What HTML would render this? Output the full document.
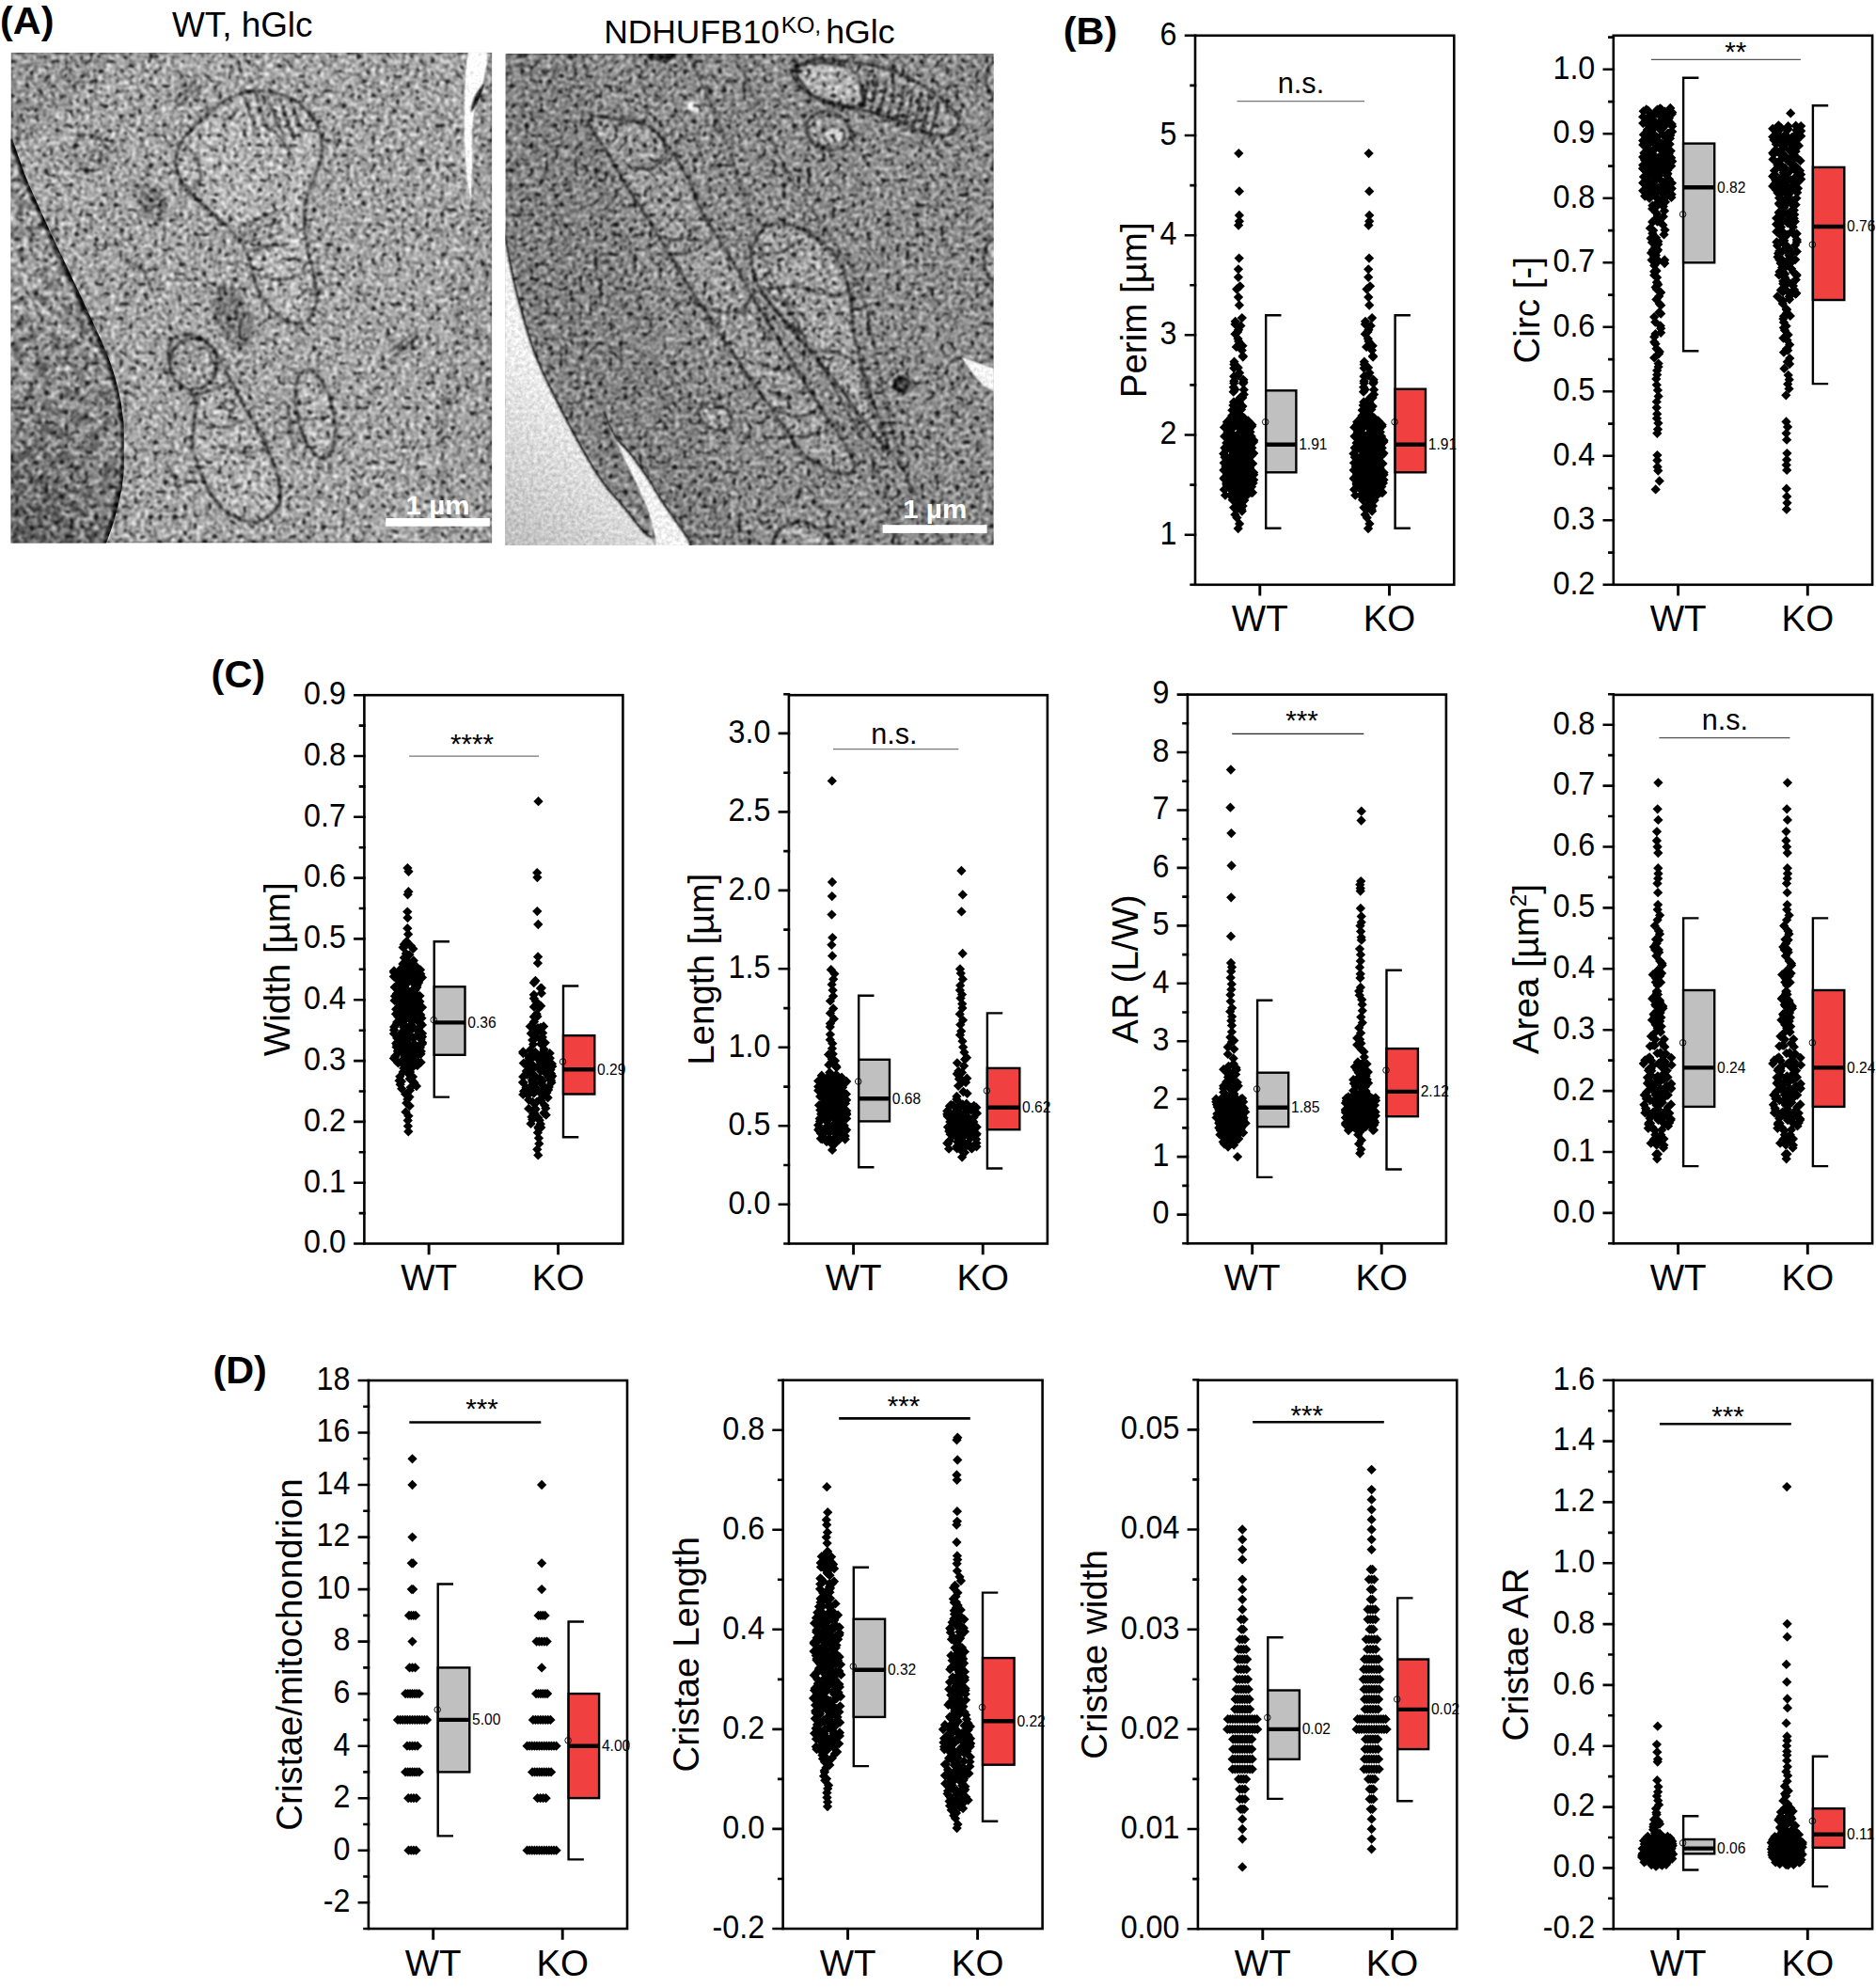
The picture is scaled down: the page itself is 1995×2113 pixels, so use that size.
<!DOCTYPE html>
<html lang="en"><head><meta charset="utf-8"><title>Figure</title>
<style>html,body{margin:0;padding:0;background:#fff}svg{display:block}text{font-family:'Liberation Sans', Arial, sans-serif;fill:#000}.tl text{font-size:34.5px;text-anchor:end}.cl text{font-size:38.5px;text-anchor:middle}.ti{font-size:38.5px;text-anchor:middle}.sg{font-size:30.6px;text-anchor:middle}.ml{font-size:15.6px}.pl{font-size:41.4px;font-weight:bold}.it{font-size:34.7px}.sb{font-size:28px;font-weight:bold;fill:#fff}.pts{fill:none;stroke:none;marker-start:url(#dm);marker-mid:url(#dm);marker-end:url(#dm)}</style></head><body>
<svg width="1995" height="2113" viewBox="0 0 1995 2113">
<defs><marker id="dm" markerUnits="userSpaceOnUse" markerWidth="10" markerHeight="10" refX="5" refY="5" viewBox="0 0 10 10" overflow="visible"><path d="M5 -0.15L10.15 5L5 10.15L-0.15 5Z" fill="#000"/></marker></defs>
<rect width="1995" height="2113" fill="#fff"/>
<defs>
<filter id="emw" x="0" y="0" width="1" height="1" color-interpolation-filters="sRGB">
<feTurbulence type="fractalNoise" baseFrequency="0.22" numOctaves="2" seed="3" result="n1"/>
<feColorMatrix in="n1" type="matrix" values="1 0 0 0 0 1 0 0 0 0 1 0 0 0 0 0 0 0 0 1" result="g1"/>
<feTurbulence type="fractalNoise" baseFrequency="0.19" numOctaves="1" seed="14" result="n2"/>
<feColorMatrix in="n2" type="matrix" values="0 -9 0 0 3.62 0 -9 0 0 3.62 0 -9 0 0 3.62 0 0 0 0 1" result="d2"/>
<feColorMatrix in="d2" type="matrix" values="-0.85 0 0 0 1 -0.85 0 0 0 1 -0.85 0 0 0 1 0 0 0 0 1" result="m2"/>
<feGaussianBlur in="SourceGraphic" stdDeviation="0.8" result="sg"/>
<feComposite in="sg" in2="g1" operator="arithmetic" k1="0" k2="1" k3="1.05" k4="-0.525" result="c1"/>
<feComposite in="c1" in2="m2" operator="arithmetic" k1="1" k2="0" k3="0" k4="0" result="c2"/>
<feGaussianBlur in="c2" stdDeviation="0.9" result="c3"/>
<feComposite in="c3" in2="SourceAlpha" operator="in"/>
</filter>
<filter id="emk" x="0" y="0" width="1" height="1" color-interpolation-filters="sRGB">
<feTurbulence type="fractalNoise" baseFrequency="0.22" numOctaves="2" seed="8" result="n1"/>
<feColorMatrix in="n1" type="matrix" values="1 0 0 0 0 1 0 0 0 0 1 0 0 0 0 0 0 0 0 1" result="g1"/>
<feTurbulence type="fractalNoise" baseFrequency="0.19" numOctaves="1" seed="19" result="n2"/>
<feColorMatrix in="n2" type="matrix" values="0 -9 0 0 3.72 0 -9 0 0 3.72 0 -9 0 0 3.72 0 0 0 0 1" result="d2"/>
<feColorMatrix in="d2" type="matrix" values="-0.85 0 0 0 1 -0.85 0 0 0 1 -0.85 0 0 0 1 0 0 0 0 1" result="m2"/>
<feGaussianBlur in="SourceGraphic" stdDeviation="0.8" result="sg"/>
<feComposite in="sg" in2="g1" operator="arithmetic" k1="0" k2="1" k3="1.0" k4="-0.5" result="c1"/>
<feComposite in="c1" in2="m2" operator="arithmetic" k1="1" k2="0" k3="0" k4="0" result="c2"/>
<feGaussianBlur in="c2" stdDeviation="0.9" result="c3"/>
<feComposite in="c3" in2="SourceAlpha" operator="in"/>
</filter>
<filter id="eml" x="-0.05" y="-0.05" width="1.1" height="1.1" color-interpolation-filters="sRGB">
<feTurbulence type="fractalNoise" baseFrequency="0.25" numOctaves="2" seed="5" result="n1"/>
<feColorMatrix in="n1" type="matrix" values="1 0 0 0 0 1 0 0 0 0 1 0 0 0 0 0 0 0 0 1" result="g1"/>
<feGaussianBlur in="SourceGraphic" stdDeviation="0.9" result="sg"/>
<feComposite in="sg" in2="g1" operator="arithmetic" k1="0" k2="1" k3="0.3" k4="-0.15" result="c1"/>
<feComposite in="c1" in2="sg" operator="in"/>
</filter>
<filter id="emn" x="0" y="0" width="1" height="1" color-interpolation-filters="sRGB">
<feTurbulence type="fractalNoise" baseFrequency="0.2" numOctaves="2" seed="21" result="n1"/>
<feColorMatrix in="n1" type="matrix" values="1 0 0 0 0 1 0 0 0 0 1 0 0 0 0 0 0 0 0 1" result="g1"/>
<feTurbulence type="fractalNoise" baseFrequency="0.075" numOctaves="2" seed="4" result="n2"/>
<feColorMatrix in="n2" type="matrix" values="0 -6 0 0 2.95 0 -6 0 0 2.95 0 -6 0 0 2.95 0 0 0 0 1" result="d2"/>
<feColorMatrix in="d2" type="matrix" values="-0.32 0 0 0 1 -0.32 0 0 0 1 -0.32 0 0 0 1 0 0 0 0 1" result="m2"/>
<feTurbulence type="fractalNoise" baseFrequency="0.19" numOctaves="1" seed="33" result="n3"/>
<feColorMatrix in="n3" type="matrix" values="0 -9 0 0 3.7 0 -9 0 0 3.7 0 -9 0 0 3.7 0 0 0 0 1" result="d3"/>
<feColorMatrix in="d3" type="matrix" values="-0.8 0 0 0 1 -0.8 0 0 0 1 -0.8 0 0 0 1 0 0 0 0 1" result="m3"/>
<feGaussianBlur in="SourceGraphic" stdDeviation="0.8" result="sg"/>
<feComposite in="sg" in2="g1" operator="arithmetic" k1="0" k2="1" k3="1.1" k4="-0.55" result="c1"/>
<feComposite in="c1" in2="m2" operator="arithmetic" k1="1" k2="0" k3="0" k4="0" result="c2"/>
<feComposite in="c2" in2="m3" operator="arithmetic" k1="1" k2="0" k3="0" k4="0" result="c2b"/>
<feGaussianBlur in="c2b" stdDeviation="0.9" result="c3"/>
<feComposite in="c3" in2="SourceAlpha" operator="in"/>
</filter>
<clipPath id="cpw"><rect x="11.5" y="55.8" width="511.8" height="521.8"/></clipPath>
<clipPath id="cpk"><rect x="537.3" y="57" width="519.5" height="522.9"/></clipPath>
<radialGradient id="nuc" gradientUnits="userSpaceOnUse" cx="15" cy="575" r="300"><stop offset="0" stop-color="#6c6c6c"/><stop offset="0.5" stop-color="#989898"/><stop offset="1" stop-color="#adadad"/></radialGradient>
<linearGradient id="kobg" x1="0" y1="0" x2="1" y2="1"><stop offset="0" stop-color="#8a8a8a"/><stop offset="1" stop-color="#9a9a9a"/></linearGradient>
<linearGradient id="exg" gradientUnits="userSpaceOnUse" x1="537" y1="580" x2="650" y2="450"><stop offset="0" stop-color="#bdbdbd"/><stop offset="0.6" stop-color="#dcdcdc"/><stop offset="1" stop-color="#f0f0f0"/></linearGradient>
</defs>
<g clip-path="url(#cpw)"><g filter="url(#emw)">
<rect x="11.5" y="55.8" width="511.8" height="521.8" fill="#aaaaaa"/>
<path d="M11.5 55.8 L120.9 55.8 L86.4 97.6 L43.2 135.0 L11.5 160.9Z" fill="#8e8e8e" opacity="0.6"/>
<path d="M259.1 99.0C267.7 97.1 278.3 95.9 287.9 97.6C297.4 99.2 308.5 103.3 316.6 109.1C324.8 114.8 332.5 123.5 336.8 132.1C341.1 140.7 343.0 151.3 342.5 160.9C342.1 170.5 336.8 181.0 333.9 189.7C331.0 198.3 327.0 204.1 325.3 212.7C323.6 221.3 323.4 231.9 323.8 241.5C324.3 251.1 326.2 260.7 328.2 270.3C330.1 279.9 333.9 290.4 335.3 299.1C336.8 307.7 338.5 314.9 336.8 322.1C335.1 329.3 330.1 338.9 325.3 342.2C320.5 345.6 314.2 344.6 308.0 342.2C301.8 339.8 293.6 334.1 287.9 327.9C282.1 321.6 277.3 313.5 273.5 304.8C269.6 296.2 268.2 284.7 264.8 276.0C261.5 267.4 259.1 260.7 253.3 253.0C247.6 245.3 238.0 237.2 230.3 230.0C222.6 222.8 213.7 216.5 207.3 209.8C200.8 203.1 194.8 196.4 191.4 189.7C188.1 183.0 186.4 176.7 187.1 169.5C187.8 162.3 190.9 153.7 195.7 146.5C200.5 139.3 209.2 132.6 215.9 126.4C222.6 120.1 228.8 113.6 236.0 109.1C243.2 104.5 250.4 100.9 259.1 99.0Z" fill="#b9b9b9" stroke="#181818" stroke-width="2.4"/>
<path d="M260.5 101.9C261.5 105.5 264.1 117.5 266.3 123.5C268.4 129.5 272.3 135.5 273.5 137.9" fill="none" stroke="#181818" stroke-width="2.1" opacity="0.9"/>
<path d="M272.0 99.0C273.2 103.1 276.6 116.5 279.2 123.5C281.9 130.4 286.4 137.9 287.9 140.7" fill="none" stroke="#181818" stroke-width="2.1" opacity="0.9"/>
<path d="M283.5 99.0C285.0 103.1 289.1 115.6 292.2 123.5C295.3 131.4 300.6 142.7 302.2 146.5" fill="none" stroke="#181818" stroke-width="2.1" opacity="0.9"/>
<path d="M296.5 101.9C297.9 106.0 302.2 118.4 305.1 126.4C308.0 134.3 312.3 145.5 313.8 149.4" fill="none" stroke="#181818" stroke-width="2.1" opacity="0.9"/>
<path d="M309.4 107.6C310.6 110.8 314.5 120.8 316.6 126.4C318.8 131.9 321.4 138.3 322.4 140.7" fill="none" stroke="#181818" stroke-width="2.1" opacity="0.9"/>
<path d="M287.9 135.0C290.3 137.9 298.4 147.0 302.2 152.3C306.1 157.5 309.4 164.3 310.9 166.7" fill="none" stroke="#181818" stroke-width="2.1" opacity="0.9"/>
<path d="M253.3 241.5C256.7 240.1 266.7 235.7 273.5 232.9C280.2 230.0 290.3 225.7 293.6 224.2" fill="none" stroke="#181818" stroke-width="2.1" opacity="0.9"/>
<path d="M256.2 250.1C260.0 248.7 272.0 243.9 279.2 241.5C286.4 239.1 296.0 236.7 299.4 235.7" fill="none" stroke="#181818" stroke-width="2.1" opacity="0.9"/>
<path d="M260.5 258.8C264.1 257.6 275.4 253.5 282.1 251.6C288.8 249.7 297.7 248.0 300.8 247.3" fill="none" stroke="#181818" stroke-width="2.1" opacity="0.9"/>
<path d="M267.7 267.4C271.1 266.4 282.1 262.8 287.9 261.6C293.6 260.4 299.8 260.4 302.2 260.2" fill="none" stroke="#181818" stroke-width="2.1" opacity="0.9"/>
<path d="M273.5 293.3C277.8 294.0 290.7 298.1 299.4 297.6C308.0 297.1 321.0 291.6 325.3 290.4" fill="none" stroke="#181818" stroke-width="2.1" opacity="0.9"/>
<path d="M319.5 316.3C320.5 314.9 322.6 308.7 325.3 307.7C327.9 306.7 333.7 310.1 335.3 310.6" fill="none" stroke="#181818" stroke-width="2.1" opacity="0.9"/>
<path d="M198.6 155.1C200.5 157.5 207.7 163.8 210.1 169.5C212.5 175.3 214.0 184.4 213.0 189.7C212.1 195.0 205.8 199.3 204.4 201.2" fill="none" stroke="#181818" stroke-width="2.1" opacity="0.9"/>
<path d="M233.2 123.5C235.1 124.0 241.3 127.8 244.7 126.4C248.0 124.9 251.9 116.8 253.3 114.8" fill="none" stroke="#181818" stroke-width="2.1" opacity="0.9"/>
<ellipse cx="247.6" cy="336.5" rx="19" ry="36" transform="rotate(-22 247.6 336.5)" fill="#7d7d7d"/>
<ellipse cx="161.2" cy="215.6" rx="14" ry="22" transform="rotate(-35 161.2 215.6)" fill="#808080"/>
<path d="M179.9 371.0C181.1 366.5 182.5 360.5 187.1 358.1C191.7 355.7 200.5 354.5 207.3 356.6C214.0 358.8 221.6 364.3 227.4 371.0C233.2 377.7 236.5 386.9 241.8 396.9C247.1 407.0 253.3 420.9 259.1 431.5C264.8 442.0 271.1 450.2 276.3 460.3C281.6 470.3 287.1 481.4 290.7 491.9C294.3 502.5 297.4 515.4 297.9 523.6C298.4 531.7 297.7 535.6 293.6 540.9C289.5 546.1 281.1 553.8 273.5 555.3C265.8 556.7 255.2 553.8 247.6 549.5C239.9 545.2 233.2 537.5 227.4 529.3C221.6 521.2 216.8 510.2 213.0 500.6C209.2 491.0 205.3 481.4 204.4 471.8C203.4 462.2 207.0 451.6 207.3 443.0C207.5 434.4 208.7 426.7 205.8 420.0C202.9 413.2 194.3 408.5 190.0 402.7C185.7 396.9 181.6 390.7 179.9 385.4C178.2 380.1 178.7 375.6 179.9 371.0Z" fill="#b6b6b6" stroke="#181818" stroke-width="2.4"/>
<ellipse cx="205.8" cy="386.9" rx="25" ry="27" fill="#a4a4a4" stroke="#181818" stroke-width="2.4"/>
<path d="M207.3 420.0C210.6 419.0 221.2 416.6 227.4 414.2C233.6 411.8 241.8 407.0 244.7 405.6" fill="none" stroke="#181818" stroke-width="2.1" opacity="0.9"/>
<path d="M210.1 448.8C214.5 449.7 227.9 454.5 236.0 454.5C244.2 454.5 255.2 449.7 259.1 448.8" fill="none" stroke="#181818" stroke-width="2.1" opacity="0.9"/>
<path d="M233.2 474.7C237.5 475.6 250.4 479.9 259.1 480.4C267.7 480.9 280.7 478.0 285.0 477.5" fill="none" stroke="#181818" stroke-width="2.1" opacity="0.9"/>
<path d="M236.0 428.6C237.5 428.1 242.3 425.0 244.7 425.7C247.1 426.4 250.9 431.2 250.4 432.9C250.0 434.6 244.2 436.5 241.8 435.8C239.4 435.1 237.0 429.8 236.0 428.6" fill="none" stroke="#181818" stroke-width="2.1" opacity="0.9"/>
<ellipse cx="335.3" cy="440.1" rx="19" ry="48" transform="rotate(-12 335.3 440.1)" fill="#b4b4b4" stroke="#181818" stroke-width="2.4"/>
<path d="M318.1 443.0C320.7 443.5 328.6 445.9 333.9 445.9C339.2 445.9 347.1 443.5 349.7 443.0" fill="none" stroke="#181818" stroke-width="1.4"/>
<ellipse cx="97.3" cy="162.3" rx="17" ry="20" transform="rotate(-30 97.3 162.3)" fill="#a8a8a8" stroke="#4a4a4a" stroke-width="2.4"/>
<circle cx="102.2" cy="166.1" r="6.5" fill="#b5b5b5" stroke="#4a4a4a" stroke-width="2.4"/>
<path d="M184.2 109.1C186.6 106.7 194.3 99.0 198.6 94.7C202.9 90.4 208.2 85.1 210.1 83.2" fill="none" stroke="#181818" stroke-width="2.1" opacity="0.85"/>
<path d="M190.0 113.4C192.4 111.0 200.3 103.3 204.4 99.0C208.5 94.7 212.8 89.4 214.5 87.5" fill="none" stroke="#181818" stroke-width="2.1" opacity="0.85"/>
<path d="M132.4 276.0C135.3 277.5 144.9 279.4 149.7 284.7C154.5 290.0 159.3 303.9 161.2 307.7" fill="none" stroke="#181818" stroke-width="2.1" opacity="0.85"/>
<path d="M414.5 373.9C416.9 372.0 424.6 365.8 428.9 362.4C433.2 359.0 438.5 355.2 440.4 353.8" fill="none" stroke="#181818" stroke-width="2.1" opacity="0.85"/>
<path d="M418.8 378.2C421.2 376.3 428.9 370.3 433.2 366.7C437.5 363.1 442.8 358.3 444.7 356.6" fill="none" stroke="#181818" stroke-width="2.1" opacity="0.85"/>
<path d="M175.6 489.1C177.0 491.9 181.8 500.6 184.2 506.3C186.6 512.1 189.0 520.7 190.0 523.6" fill="none" stroke="#181818" stroke-width="2.1" opacity="0.85"/>
<path d="M305.1 425.7C305.8 431.0 308.2 447.8 309.4 457.4C310.6 467.0 311.8 479.0 312.3 483.3" fill="none" stroke="#181818" stroke-width="2.1" opacity="0.85"/>
<path d="M502.3 212.7C501.6 220.4 500.1 242.0 498.0 258.8C495.8 275.6 491.7 295.7 489.3 313.5C487.0 331.2 486.0 348.5 483.6 365.3C481.2 382.1 477.4 398.9 475.0 414.2C472.6 429.6 469.7 444.9 469.2 457.4C468.7 469.9 472.6 477.1 472.1 489.1C471.6 501.0 468.2 514.2 466.3 529.3C464.4 544.5 461.5 571.3 460.6 579.7" fill="none" stroke="#4a4a4a" stroke-width="2.1" opacity="0.9"/>
<path d="M502.3 212.7 L489.3 313.5 L475.0 414.2 L469.2 489.1 L460.6 579.7 L523.9 579.7 L523.9 55.8 L515.3 55.8Z" fill="#9c9c9c" opacity="0.5"/>
</g>
<g filter="url(#emn)">
<path d="M11.5 149.4C13.9 156.1 19.7 174.3 25.9 189.7C32.1 205.0 41.3 224.7 48.9 241.5C56.6 258.3 64.3 274.1 72.0 290.4C79.6 306.7 87.8 323.5 95.0 339.4C102.2 355.2 109.9 370.6 115.1 385.4C120.4 400.3 124.0 414.2 126.7 428.6C129.3 443.0 130.7 457.4 131.0 471.8C131.2 486.2 130.0 501.5 128.1 515.0C126.2 528.4 122.6 541.3 119.5 552.4C116.3 563.4 111.1 576.4 109.4 581.2 L109.4 584.7 L9.5 584.7 L9.5 54.4 Z" fill="url(#nuc)"/>
<path d="M11.5 149.4C13.9 156.1 19.7 174.3 25.9 189.7C32.1 205.0 41.3 224.7 48.9 241.5C56.6 258.3 64.3 274.1 72.0 290.4C79.6 306.7 87.8 323.5 95.0 339.4C102.2 355.2 109.9 370.6 115.1 385.4C120.4 400.3 124.0 414.2 126.7 428.6C129.3 443.0 130.7 457.4 131.0 471.8C131.2 486.2 130.0 501.5 128.1 515.0C126.2 528.4 122.6 541.3 119.5 552.4C116.3 563.4 111.1 576.4 109.4 581.2" fill="none" stroke="#1c1c1c" stroke-width="4.2" stroke-linecap="round"/>
</g>
<g filter="url(#eml)">
<path d="M497.4 54.4C501.6 42.4 515.1 49.6 518.1 54.4C521.2 59.2 518.1 71.2 515.8 83.2C513.5 95.2 506.5 109.6 504.3 126.4C502.2 143.1 503.5 169.1 502.9 183.9C502.3 198.8 502.2 215.6 500.9 215.6C499.6 215.6 496.4 198.8 495.1 183.9C493.8 169.1 492.4 147.9 492.8 126.4C493.2 104.8 493.2 66.4 497.4 54.4Z" fill="#ffffff"/>
<path d="M515.3 88.9C516.0 89.7 511.9 101.2 509.5 106.2C507.1 111.2 501.6 119.9 500.9 119.2C500.1 118.4 502.8 106.9 505.2 101.9C507.6 96.9 514.5 88.2 515.3 88.9Z" fill="#1a1a1a"/>
</g></g>
<rect x="410.2" y="551" width="110.6" height="8.7" fill="#fff"/>
<text class="sb" x="431.6" y="546.6" textLength="68" lengthAdjust="spacingAndGlyphs">1 µm</text>
<g clip-path="url(#cpk)"><g filter="url(#emk)">
<rect x="537.3" y="57" width="519.5" height="522.9" fill="#929292"/>
<path d="M537.2 57.3 L625.0 57.3 L679.7 299.1 L789.1 579.7 L714.2 579.7 L622.1 483.3 L558.8 333.6 L537.2 241.5Z" fill="#808080" opacity="0.55"/>
<path d="M630.7 123.5C635.1 122.0 643.7 124.4 653.8 126.4C663.9 128.3 681.1 129.2 691.2 135.0C701.3 140.7 707.5 151.8 714.2 160.9C720.9 170.0 725.7 178.2 731.5 189.7C737.3 201.2 741.6 216.5 748.8 230.0C756.0 243.4 766.0 255.9 774.7 270.3C783.3 284.7 791.5 301.0 800.6 316.3C809.7 331.7 819.8 346.6 829.4 362.4C839.0 378.2 848.6 396.0 858.2 411.3C867.7 426.7 878.8 441.6 886.9 454.5C895.1 467.5 904.2 480.9 907.1 489.1C910.0 497.2 908.0 501.5 904.2 503.4C900.4 505.4 892.2 503.9 884.1 500.6C875.9 497.2 863.9 491.4 855.3 483.3C846.6 475.1 840.9 463.6 832.2 451.6C823.6 439.6 813.1 425.2 803.5 411.3C793.9 397.4 784.3 382.5 774.7 368.2C765.1 353.8 755.5 339.8 745.9 325.0C736.3 310.1 726.2 293.8 717.1 278.9C708.0 264.0 699.8 249.7 691.2 235.7C682.6 221.8 673.0 207.9 665.3 195.4C657.6 183.0 651.4 171.0 645.1 160.9C638.9 150.8 630.3 141.2 627.9 135.0C625.5 128.8 626.4 124.9 630.7 123.5Z" fill="#a0a0a0" stroke="#181818" stroke-width="2.5"/>
<path d="M656.7 132.1C660.5 131.6 672.5 127.3 679.7 129.2C686.9 131.2 695.0 137.9 699.8 143.6C704.6 149.4 709.4 158.0 708.5 163.8C707.5 169.5 699.8 175.8 694.1 178.2C688.3 180.6 677.3 178.2 673.9 178.2" fill="none" stroke="#181818" stroke-width="2.1" opacity="0.9"/>
<path d="M705.6 253.0C709.4 253.0 721.9 255.4 728.6 253.0C735.3 250.6 743.0 241.0 745.9 238.6" fill="none" stroke="#181818" stroke-width="2.1" opacity="0.9"/>
<path d="M714.2 270.3C718.1 269.8 730.1 270.3 737.3 267.4C744.5 264.5 754.0 255.4 757.4 253.0" fill="none" stroke="#181818" stroke-width="2.1" opacity="0.9"/>
<path d="M737.3 322.1C741.1 323.5 751.6 329.3 760.3 330.7C768.9 332.2 782.8 333.1 789.1 330.7C795.3 328.3 796.3 318.7 797.7 316.3" fill="none" stroke="#181818" stroke-width="2.1" opacity="0.9"/>
<path d="M806.3 385.4C810.2 386.9 822.7 393.6 829.4 394.1C836.1 394.5 843.8 389.3 846.6 388.3" fill="none" stroke="#181818" stroke-width="2.1" opacity="0.9"/>
<path d="M835.1 463.1C839.4 463.1 852.4 464.6 861.0 463.1C869.7 461.7 882.6 455.9 886.9 454.5" fill="none" stroke="#181818" stroke-width="2.1" opacity="0.9"/>
<path d="M815.0 414.2C818.3 415.6 828.4 422.8 835.1 422.8C841.8 422.8 851.9 415.6 855.3 414.2" fill="none" stroke="#181818" stroke-width="2.1" opacity="0.9"/>
<path d="M826.5 437.2C830.3 438.2 841.8 443.5 849.5 443.0C857.2 442.5 868.7 435.8 872.5 434.4" fill="none" stroke="#181818" stroke-width="2.1" opacity="0.9"/>
<path d="M817.9 240.1C825.5 236.7 837.0 238.4 846.6 241.5C856.2 244.6 867.3 251.6 875.4 258.8C883.6 266.0 890.8 275.1 895.6 284.7C900.4 294.3 902.3 305.3 904.2 316.3C906.1 327.4 905.2 339.4 907.1 350.9C909.0 362.4 912.4 373.4 915.7 385.4C919.1 397.4 923.4 410.9 927.2 422.8C931.1 434.8 935.9 448.3 938.8 457.4C941.6 466.5 945.5 476.1 944.5 477.5C943.5 479.0 938.3 472.3 933.0 466.0C927.7 459.8 919.6 449.2 912.8 440.1C906.1 431.0 899.4 420.4 892.7 411.3C886.0 402.2 879.3 393.6 872.5 385.4C865.8 377.3 859.1 370.1 852.4 362.4C845.7 354.7 839.0 347.5 832.2 339.4C825.5 331.2 817.4 322.1 812.1 313.5C806.8 304.8 802.5 296.2 800.6 287.6C798.7 278.9 797.7 269.6 800.6 261.6C803.5 253.7 810.2 243.4 817.9 240.1Z" fill="#a8a8a8" stroke="#181818" stroke-width="2.5"/>
<path d="M806.3 270.3C810.7 269.8 824.1 270.3 832.2 267.4C840.4 264.5 851.4 255.4 855.3 253.0" fill="none" stroke="#181818" stroke-width="2.1" opacity="0.9"/>
<path d="M812.1 307.7C817.9 307.2 835.1 303.9 846.6 304.8C858.2 305.8 872.1 312.5 881.2 313.5C890.3 314.4 898.0 311.1 901.3 310.6" fill="none" stroke="#181818" stroke-width="2.1" opacity="0.9"/>
<path d="M817.9 316.3C821.7 317.8 833.7 320.2 840.9 325.0C848.1 329.8 857.7 341.8 861.0 345.1" fill="none" stroke="#181818" stroke-width="2.1" opacity="0.9"/>
<path d="M823.6 327.9C826.5 330.7 835.1 339.8 840.9 345.1C846.6 350.4 855.3 357.1 858.2 359.5" fill="none" stroke="#181818" stroke-width="2.1" opacity="0.9"/>
<path d="M863.9 373.9C867.7 373.9 879.3 372.0 886.9 373.9C894.6 375.8 906.1 383.5 910.0 385.4" fill="none" stroke="#181818" stroke-width="2.1" opacity="0.9"/>
<path d="M806.3 345.1C808.3 346.6 816.4 350.4 817.9 353.8C819.3 357.1 815.5 363.4 815.0 365.3" fill="none" stroke="#181818" stroke-width="2.1" opacity="0.9"/>
<path d="M843.8 71.7C847.6 67.8 859.6 64.0 869.7 63.0C879.7 62.1 892.7 64.5 904.2 65.9C915.7 67.3 927.2 68.3 938.8 71.7C950.3 75.0 962.7 80.3 973.3 86.1C983.8 91.8 994.4 99.5 1002.1 106.2C1009.8 112.9 1018.4 120.1 1019.3 126.4C1020.3 132.6 1013.6 141.2 1007.8 143.6C1002.1 146.0 993.4 143.1 984.8 140.7C976.2 138.3 966.6 133.1 956.0 129.2C945.5 125.4 932.5 120.6 921.5 117.7C910.4 114.8 899.9 114.8 889.8 112.0C879.7 109.1 868.2 104.8 861.0 100.4C853.8 96.1 849.5 90.9 846.6 86.1C843.8 81.3 839.9 75.5 843.8 71.7Z" fill="#a2a2a2" stroke="#181818" stroke-width="2.5"/>
<path d="M846.6 74.5C848.1 69.0 863.4 67.8 872.5 67.3C881.7 66.9 894.1 68.1 901.3 71.7C908.5 75.3 913.8 82.2 915.7 88.9C917.6 95.7 917.2 108.6 912.8 112.0C908.5 115.3 898.0 111.0 889.8 109.1C881.7 107.2 871.1 106.2 863.9 100.4C856.7 94.7 845.2 80.1 846.6 74.5Z" fill="#b8b8b8" stroke="#181818" stroke-width="2.4"/>
<path d="M924.4 77.4C923.8 80.8 922.3 90.9 920.9 97.6C919.5 104.3 916.6 114.4 915.7 117.7" fill="none" stroke="#181818" stroke-width="2.8"/>
<path d="M933.6 80.9C933.0 84.2 931.6 94.4 930.1 101.0C928.7 107.6 925.8 117.3 924.9 120.6" fill="none" stroke="#181818" stroke-width="2.8"/>
<path d="M942.8 84.3C942.2 87.7 940.8 98.0 939.3 104.5C937.9 111.0 935.0 120.3 934.1 123.5" fill="none" stroke="#181818" stroke-width="2.8"/>
<path d="M952.0 87.8C951.4 91.1 950.0 101.5 948.5 107.9C947.1 114.4 944.2 123.3 943.4 126.4" fill="none" stroke="#181818" stroke-width="2.8"/>
<path d="M961.2 91.2C960.6 94.6 959.2 105.1 957.7 111.4C956.3 117.7 953.4 126.3 952.6 129.2" fill="none" stroke="#181818" stroke-width="2.8"/>
<path d="M970.4 94.7C969.8 98.1 968.4 108.6 967.0 114.8C965.5 121.1 962.6 129.2 961.8 132.1" fill="none" stroke="#181818" stroke-width="2.8"/>
<path d="M979.6 98.1C979.1 101.5 977.6 112.2 976.2 118.3C974.7 124.4 971.9 132.2 971.0 135.0" fill="none" stroke="#181818" stroke-width="2.8"/>
<path d="M988.8 101.6C988.3 105.0 986.8 115.7 985.4 121.8C983.9 127.8 981.1 135.2 980.2 137.9" fill="none" stroke="#181818" stroke-width="2.8"/>
<path d="M998.0 105.1C997.5 108.4 996.0 119.3 994.6 125.2C993.2 131.2 990.3 138.2 989.4 140.7" fill="none" stroke="#181818" stroke-width="2.8"/>
<ellipse cx="881.2" cy="139.3" rx="24" ry="20" transform="rotate(25 881.2 139.3)" fill="#a0a0a0" stroke="#181818" stroke-width="2.4"/>
<ellipse cx="886.9" cy="143.6" rx="11" ry="8.5" fill="#d6d6d6" stroke="#181818" stroke-width="1.2"/>
<circle cx="872.5" cy="130.7" r="5.5" fill="#c8c8c8" stroke="#181818" stroke-width="1"/>
<ellipse cx="737.8" cy="113.4" rx="8.5" ry="5" transform="rotate(35 737.8 113.4)" fill="#fafafa"/>
<ellipse cx="760.3" cy="443.0" rx="18" ry="13" transform="rotate(30 760.3 443.0)" fill="#b2b2b2" stroke="#181818" stroke-width="2.4"/>
<path d="M757.4 434.4C758.1 435.8 760.5 439.9 761.7 443.0C762.9 446.1 764.1 451.4 764.6 453.1" fill="none" stroke="#181818" stroke-width="1.5"/>
<path d="M731.5 57.3C737.3 70.2 756.4 111.0 766.0 135.0C775.6 159.0 782.4 180.6 789.1 201.2C795.8 221.8 798.7 238.6 806.3 258.8C814.0 278.9 824.6 301.5 835.1 322.1C845.7 342.7 858.2 362.4 869.7 382.5C881.2 402.7 893.7 423.3 904.2 443.0C914.8 462.7 924.4 477.8 933.0 500.6C941.6 523.4 952.2 566.5 956.0 579.7" fill="none" stroke="#181818" stroke-width="1.8" opacity="0.8"/>
<path d="M783.3 57.3C787.1 66.9 797.7 94.7 806.3 114.8C815.0 135.0 823.6 157.1 835.1 178.2C846.6 199.3 862.5 221.3 875.4 241.5C888.4 261.6 904.2 279.9 912.8 299.1C921.5 318.3 922.4 335.0 927.2 356.6C932.0 378.2 935.9 404.6 941.6 428.6C947.4 452.6 955.1 475.4 961.8 500.6C968.5 525.8 978.6 566.5 981.9 579.7" fill="none" stroke="#181818" stroke-width="1.4" opacity="0.8"/>
<path d="M912.8 385.4C915.7 395.0 923.4 425.7 930.1 443.0C936.8 460.3 945.0 473.7 953.1 489.1C961.3 504.4 970.9 520.0 979.1 535.1C987.2 550.2 998.2 572.3 1002.1 579.7" fill="none" stroke="#181818" stroke-width="1.8" opacity="0.8"/>
<circle cx="958.9" cy="408.5" r="9" fill="#1c1c1c"/>
<circle cx="959.8" cy="409.9" r="2.6" fill="#909090"/>
<ellipse cx="702.7" cy="60.1" rx="16" ry="5" fill="#2a2a2a"/>
<path d="M820.7 579.7C822.7 576.6 826.5 565.1 832.2 561.0C838.0 556.9 848.1 554.3 855.3 555.3C862.5 556.2 870.1 562.7 875.4 566.8C880.7 570.8 885.0 577.6 886.9 579.7" fill="#a8a8a8" stroke="#181818" stroke-width="2.4"/>
<ellipse cx="1058.2" cy="276.0" rx="12" ry="22" fill="#a4a4a4" stroke="#181818" stroke-width="2.4"/>
<ellipse cx="1058.2" cy="83.2" rx="10" ry="17" fill="#a4a4a4" stroke="#181818" stroke-width="2.4"/>
</g>
<g filter="url(#eml)">
<path d="M534.0 236.0C534.5 238.4 534.4 238.2 537.0 250.6C539.6 263.0 544.1 289.7 549.4 310.5C554.7 331.3 560.9 354.8 568.8 375.6C576.7 396.4 588.1 417.9 596.9 435.5C605.7 453.1 614.0 468.1 621.6 481.3C629.2 494.5 635.7 505.1 642.7 514.8C649.8 524.5 656.9 531.0 663.9 539.5C670.9 548.0 680.0 560.6 685.0 565.9C690.0 571.2 692.3 570.3 693.8 571.2 L698 584 L530 584 L530 236 Z" fill="url(#exg)"/>
<path d="M653.3 465.5 L663.9 490.1 L676.2 514.8 L688.5 543.0 L695.6 569.4 L697.0 584.0 L736.0 584.0 L730.8 571.2 L706.1 535.9 L688.5 507.7 L670.9 483.1 L656.8 467.2Z" fill="#f1f1f1"/>
<path d="M1020.8 378.2 L1062.5 392.6 L1062.5 420.0 L1045.3 411.3 L1030.9 394.1Z" fill="#f4f4f4"/>
<path d="M534.0 236.0C534.5 238.4 534.4 238.2 537.0 250.6C539.6 263.0 544.1 289.7 549.4 310.5C554.7 331.3 560.9 354.8 568.8 375.6C576.7 396.4 588.1 417.9 596.9 435.5C605.7 453.1 614.0 468.1 621.6 481.3C629.2 494.5 635.7 505.1 642.7 514.8C649.8 524.5 656.9 531.0 663.9 539.5C670.9 548.0 680.0 560.6 685.0 565.9C690.0 571.2 692.3 570.3 693.8 571.2" fill="none" stroke="#1c1c1c" stroke-width="2.5"/>
<path d="M642.0 437.0C643.0 439.5 645.5 447.0 648.0 452.0C650.5 457.0 653.0 462.0 656.8 467.2C660.6 472.4 665.6 476.4 670.9 483.1C676.2 489.9 682.6 498.9 688.5 507.7C694.4 516.5 699.1 525.3 706.1 535.9C713.1 546.5 725.8 563.2 730.8 571.2C735.8 579.2 735.1 581.9 736.0 584.0" fill="none" stroke="#1c1c1c" stroke-width="2.4"/>
</g></g>
<rect x="938.6" y="558.2" width="111" height="8.7" fill="#fff"/>
<text class="sb" x="960.2" y="551" textLength="68" lengthAdjust="spacingAndGlyphs">1 µm</text>
<text class="pl" x="0" y="35.5">(A)</text>
<text class="pl" x="1130.8" y="46.5">(B)</text>
<text class="pl" x="224.6" y="731">(C)</text>
<text class="pl" x="226.4" y="1471">(D)</text>
<text class="it" x="182.9" y="38.7" style="font-size:36.9px">WT, hGlc</text>
<text class="it" x="642.2" y="46.2" style="font-size:35.4px">NDHUFB10<tspan font-size="24.6" x="830.8" y="34.6">KO,</tspan><tspan x="878.2" y="46.2" font-size="35.7">hGlc</tspan></text>
<g>
<rect x="1271" y="37.8" width="275.3" height="584" fill="#fff" stroke="#000" stroke-width="2.6"/>
<path d="M1272.3 568.7h-12.6M1272.3 462.5h-12.6M1272.3 356.3h-12.6M1272.3 250.2h-12.6M1272.3 144h-12.6M1272.3 37.8h-12.6M1272.3 621.8h-7M1272.3 515.6h-7M1272.3 409.4h-7M1272.3 303.3h-7M1272.3 197.1h-7M1272.3 90.9h-7" stroke="#000" stroke-width="2.6" fill="none"/>
<path d="M1339.8 621.8v11.8M1477.5 621.8v11.8" stroke="#000" stroke-width="2.9" fill="none"/>
<g class="tl">
<text transform="translate(1251.5 578.5) scale(.935 1)">1</text>
<text transform="translate(1251.5 472.3) scale(.935 1)">2</text>
<text transform="translate(1251.5 366.1) scale(.935 1)">3</text>
<text transform="translate(1251.5 260) scale(.935 1)">4</text>
<text transform="translate(1251.5 153.8) scale(.935 1)">5</text>
<text transform="translate(1251.5 47.6) scale(.935 1)">6</text>
</g>
<g class="cl">
<text x="1339.8" y="671.4">WT</text>
<text x="1477.5" y="671.4">KO</text>
</g>
<text class="ti" transform="translate(1219 329.8) rotate(-90)">Perim [µm]</text>
<path d="M1315.5 107.7H1451" stroke="#777" stroke-width="1.2"/>
<text class="sg" x="1383.5" y="99">n.s.</text>
<polyline class="pts" points="1320.8,338.1 1313.7,341.8 1313.5,344.8 1319.4,346.4 1316.1,353.1 1317.1,350.7 1313.5,355.2 1316.5,360.2 1317.2,363 1321.4,367.7 1314.8,368.9 1320.7,372.6 1321.7,378.6 1321.8,379.6 1312.5,384.7 1312.4,387.6 1312.3,391.6 1316.7,390.9 1318.1,396.5 1312.2,400.2 1316.8,399.3 1322.3,403.8 1312.3,405.2 1322.4,406.2 1312.3,407.4 1322,407.7 1311.8,411.8 1313.4,414.3 1322.7,414.4 1311.7,416.7 1322.8,419.4 1321.3,422.9 1317.6,424.4 1319.4,422.4 1312,427.4 1318,427.9 1311.4,431.1 1314.6,434.3 1321.4,432 1310.4,436.2 1320,435.4 1314.2,438.3 1319.4,441.3 1309.4,444.1 1310.2,441.9 1313.9,445.4 1323.1,445.7 1323,444.3 1304.9,448.7 1307.7,446.9 1316.6,448.3 1321,447.5 1325.8,448.4 1327.3,447.4 1304.8,451.4 1312.7,450.5 1315.7,449.7 1320.2,450.6 1321.3,450.8 1331.4,451.7 1306.4,453.7 1309.2,454.8 1311.6,454.4 1316.2,453.8 1324.6,452.3 1331.2,453.4 1302,454.4 1306.8,457.1 1310.7,455.1 1319.9,457 1321.3,457.9 1325,457 1328.7,456.1 1305.5,459.2 1307.7,458.9 1309,459.6 1317.2,461 1320.5,461.4 1321.9,458.3 1326.9,458.7 1329.5,459.3 1302.2,464 1311.4,462.4 1309.7,460.7 1319.8,460.8 1323.2,462.9 1325,463.8 1327.6,461.1 1305.7,464.2 1305.6,463.5 1313.5,465.1 1318.1,465.9 1323.9,467.1 1327.6,464.1 1330.7,464 1305,466 1306.5,466.7 1314,467.4 1318,468.3 1321,468.5 1329.1,465.6 1333.2,468.2 1304.3,471.1 1307.2,469.7 1315.2,470.7 1320.2,469.3 1322.8,468.3 1327.9,470.7 1331.9,470.3 1306.1,473.7 1307.4,472.9 1310.1,473.4 1317.3,471.2 1316.7,471.5 1323.5,472.9 1327.1,469.9 1333.1,470 1302.4,476.2 1305.6,473.6 1312.7,475.9 1319.5,475.8 1324.8,475 1329.4,473.4 1329,475.1 1304.4,477.6 1310.4,477.7 1311.3,477 1319.6,479.1 1319.8,478.9 1329.6,477.6 1331.4,476.3 1304.2,478.4 1311.3,480.3 1311.9,481.5 1317.6,480.2 1323.1,478.5 1326.6,479.9 1333.2,482 1301.2,482.4 1310.2,484.3 1312.5,482 1315.1,483.2 1324.7,481.2 1328.3,480.8 1328.8,481.6 1302.5,486.2 1305.3,486.7 1310,485.8 1315.5,484.5 1322,485.5 1325.5,485.4 1331.1,484.4 1304.4,488.2 1310.5,488.5 1315.1,487 1318.9,489.3 1324.5,487.3 1325.1,489.7 1329,490 1301.7,492.3 1306.4,489.8 1314.9,491.1 1319.2,489.9 1321.1,492.2 1323,490.2 1332.2,493.1 1303.5,496 1308.1,495.7 1310.5,493.2 1314.5,493.1 1322.1,495 1326.8,493.5 1328.8,493.8 1305.8,496.6 1304.6,500 1311,499.3 1314.2,498.1 1319.3,498 1323.8,496.3 1328.4,499.6 1329.3,498.1 1301.4,500 1308.1,499.4 1315.3,502.6 1318.6,502.8 1322.7,501 1327,501.4 1333.2,502.6 1304.7,504.9 1309.1,503.4 1313.6,505.3 1316.4,504.8 1320.8,503.4 1324.5,502.1 1326.3,503.6 1328.3,503.2 1301.6,508.5 1309.2,506.1 1313.7,507 1317.4,506.3 1325.2,507.3 1327.7,507.8 1333.2,504.8 1301.8,509.3 1305,508.5 1311.8,508.1 1315.5,511.3 1322.1,509.7 1329.5,510 1333.2,510.3 1304.2,514 1304.9,514.7 1310.3,512.9 1314.9,512.9 1322.5,511.2 1329.4,512.6 1331.1,513.4 1304.5,515.8 1306.6,516.4 1311.2,513.6 1315.5,513.7 1319.4,516.5 1325.6,517.1 1332.6,513.7 1301.8,520.7 1308,519 1315.9,518 1317.4,520.8 1323.1,518.9 1329.1,520.3 1331,517.5 1302.6,520.2 1308.9,520.5 1312.6,522.7 1316.9,521.1 1321.9,521.7 1327.4,522.1 1332,523.8 1303,526.7 1312.1,525.7 1313.8,524.2 1320.9,525.4 1325,525.7 1330.8,523.9 1310.7,529 1309.2,525.8 1315.6,527.2 1322.8,525.9 1327,525.8 1312.1,530.2 1316.1,529.6 1320.3,529.1 1310.7,531.6 1319.2,533.6 1323.3,532 1317,535.6 1321.6,538.1 1316.5,540.7 1319.4,538.5 1312.1,539.8 1320.2,541.5 1320.8,543.5 1313.4,547.3 1315.4,550.6 1318.1,557 1316.7,562 1317.3,163.1 1317.9,203.4 1317.9,228.9 1317.9,235.3 1317.1,239.5 1317.7,274.6 1316.9,286.3 1316.9,294.8 1318.7,304.3 1315.2,307.5 1317,316 1317.9,324.5"/>
<path d="M1362.5 335.3H1346.2V561.7H1362.5" stroke="#000" stroke-width="2.4" fill="none"/>
<rect x="1346.2" y="415.3" width="32.2" height="87" fill="#c0c0c0" stroke="#000" stroke-width="2.4"/>
<path d="M1346.2 472.7H1378.4" stroke="#000" stroke-width="4.4"/>
<circle cx="1345.7" cy="448.7" r="3.3" fill="none" stroke="#000" stroke-width="0.9"/>
<text class="ml" x="1381.2" y="478.1">1.91</text>
<polyline class="pts" points="1459.1,338.1 1452,341.8 1451.8,344.8 1457.7,346.4 1454.4,353.1 1455.4,350.7 1451.8,355.2 1454.8,360.2 1455.5,363 1459.7,367.7 1453.1,368.9 1459,372.6 1460,378.6 1460.1,379.6 1450.8,384.7 1450.7,387.6 1450.6,391.6 1455,390.9 1456.4,396.5 1450.5,400.2 1455.1,399.3 1460.6,403.8 1450.6,405.2 1460.7,406.2 1450.6,407.4 1460.3,407.7 1450.1,411.8 1451.7,414.3 1461,414.4 1450,416.7 1461.1,419.4 1459.6,422.9 1455.9,424.4 1457.7,422.4 1450.3,427.4 1456.3,427.9 1449.7,431.1 1452.9,434.3 1459.7,432 1448.7,436.2 1458.3,435.4 1452.5,438.3 1457.7,441.3 1447.7,444.1 1448.5,441.9 1452.2,445.4 1461.4,445.7 1461.3,444.3 1443.2,448.7 1446,446.9 1454.9,448.3 1459.3,447.5 1464.1,448.4 1465.6,447.4 1443.1,451.4 1451,450.5 1454,449.7 1458.5,450.6 1459.6,450.8 1469.7,451.7 1444.7,453.7 1447.5,454.8 1449.9,454.4 1454.5,453.8 1462.9,452.3 1469.5,453.4 1440.3,454.4 1445.1,457.1 1449,455.1 1458.2,457 1459.6,457.9 1463.3,457 1467,456.1 1443.8,459.2 1446,458.9 1447.3,459.6 1455.5,461 1458.8,461.4 1460.2,458.3 1465.2,458.7 1467.8,459.3 1440.5,464 1449.7,462.4 1448,460.7 1458.1,460.8 1461.5,462.9 1463.3,463.8 1465.9,461.1 1444,464.2 1443.9,463.5 1451.8,465.1 1456.4,465.9 1462.2,467.1 1465.9,464.1 1469,464 1443.3,466 1444.8,466.7 1452.3,467.4 1456.3,468.3 1459.3,468.5 1467.4,465.6 1471.5,468.2 1442.6,471.1 1445.5,469.7 1453.5,470.7 1458.5,469.3 1461.1,468.3 1466.2,470.7 1470.2,470.3 1444.4,473.7 1445.7,472.9 1448.4,473.4 1455.6,471.2 1455,471.5 1461.8,472.9 1465.4,469.9 1471.4,470 1440.7,476.2 1443.9,473.6 1451,475.9 1457.8,475.8 1463.1,475 1467.7,473.4 1467.3,475.1 1442.7,477.6 1448.7,477.7 1449.6,477 1457.9,479.1 1458.1,478.9 1467.9,477.6 1469.7,476.3 1442.5,478.4 1449.6,480.3 1450.2,481.5 1455.9,480.2 1461.4,478.5 1464.9,479.9 1471.5,482 1439.5,482.4 1448.5,484.3 1450.8,482 1453.4,483.2 1463,481.2 1466.6,480.8 1467.1,481.6 1440.8,486.2 1443.6,486.7 1448.3,485.8 1453.8,484.5 1460.3,485.5 1463.8,485.4 1469.4,484.4 1442.7,488.2 1448.8,488.5 1453.4,487 1457.2,489.3 1462.8,487.3 1463.4,489.7 1467.3,490 1440,492.3 1444.7,489.8 1453.2,491.1 1457.5,489.9 1459.4,492.2 1461.3,490.2 1470.5,493.1 1441.8,496 1446.4,495.7 1448.8,493.2 1452.8,493.1 1460.4,495 1465.1,493.5 1467.1,493.8 1444.1,496.6 1442.9,500 1449.3,499.3 1452.5,498.1 1457.6,498 1462.1,496.3 1466.7,499.6 1467.6,498.1 1439.7,500 1446.4,499.4 1453.6,502.6 1456.9,502.8 1461,501 1465.3,501.4 1471.5,502.6 1443,504.9 1447.4,503.4 1451.9,505.3 1454.7,504.8 1459.1,503.4 1462.8,502.1 1464.6,503.6 1466.6,503.2 1439.9,508.5 1447.5,506.1 1452,507 1455.7,506.3 1463.5,507.3 1466,507.8 1471.5,504.8 1440.1,509.3 1443.3,508.5 1450.1,508.1 1453.8,511.3 1460.4,509.7 1467.8,510 1471.5,510.3 1442.5,514 1443.2,514.7 1448.6,512.9 1453.2,512.9 1460.8,511.2 1467.7,512.6 1469.4,513.4 1442.8,515.8 1444.9,516.4 1449.5,513.6 1453.8,513.7 1457.7,516.5 1463.9,517.1 1470.9,513.7 1440.1,520.7 1446.3,519 1454.2,518 1455.7,520.8 1461.4,518.9 1467.4,520.3 1469.3,517.5 1440.9,520.2 1447.2,520.5 1450.9,522.7 1455.2,521.1 1460.2,521.7 1465.7,522.1 1470.3,523.8 1441.3,526.7 1450.4,525.7 1452.1,524.2 1459.2,525.4 1463.3,525.7 1469.1,523.9 1449,529 1447.5,525.8 1453.9,527.2 1461.1,525.9 1465.3,525.8 1450.4,530.2 1454.4,529.6 1458.6,529.1 1449,531.6 1457.5,533.6 1461.6,532 1455.3,535.6 1459.9,538.1 1454.8,540.7 1457.7,538.5 1450.4,539.8 1458.5,541.5 1459.1,543.5 1451.7,547.3 1453.7,550.6 1456.4,557 1455,562 1455.6,163.1 1456.2,203.4 1456.2,228.9 1456.2,235.3 1455.4,239.5 1456,274.6 1455.2,286.3 1455.2,294.8 1457,304.3 1453.5,307.5 1455.3,316 1456.2,324.5"/>
<path d="M1499.9 335.3H1483.6V561.7H1499.9" stroke="#000" stroke-width="2.4" fill="none"/>
<rect x="1483.6" y="413.7" width="32.4" height="88.6" fill="#f04040" stroke="#000" stroke-width="2.4"/>
<path d="M1483.6 472.7H1516" stroke="#000" stroke-width="4.4"/>
<circle cx="1483.1" cy="448.7" r="3.3" fill="none" stroke="#000" stroke-width="0.9"/>
<text class="ml" x="1518.8" y="478.1">1.91</text>
</g>
<g>
<rect x="1715.8" y="37.8" width="275.3" height="584" fill="#fff" stroke="#000" stroke-width="2.6"/>
<path d="M1717.1 621.8h-12.6M1717.1 553.3h-12.6M1717.1 484.8h-12.6M1717.1 416.3h-12.6M1717.1 347.8h-12.6M1717.1 279.3h-12.6M1717.1 210.8h-12.6M1717.1 142.3h-12.6M1717.1 73.8h-12.6M1717.1 587.6h-7M1717.1 519.1h-7M1717.1 450.6h-7M1717.1 382.1h-7M1717.1 313.6h-7M1717.1 245.1h-7M1717.1 176.6h-7M1717.1 108.1h-7M1717.1 39.6h-7" stroke="#000" stroke-width="2.6" fill="none"/>
<path d="M1784.6 621.8v11.8M1922.3 621.8v11.8" stroke="#000" stroke-width="2.9" fill="none"/>
<g class="tl">
<text transform="translate(1696.3 631.6) scale(.935 1)">0.2</text>
<text transform="translate(1696.3 563.1) scale(.935 1)">0.3</text>
<text transform="translate(1696.3 494.6) scale(.935 1)">0.4</text>
<text transform="translate(1696.3 426.1) scale(.935 1)">0.5</text>
<text transform="translate(1696.3 357.6) scale(.935 1)">0.6</text>
<text transform="translate(1696.3 289.1) scale(.935 1)">0.7</text>
<text transform="translate(1696.3 220.6) scale(.935 1)">0.8</text>
<text transform="translate(1696.3 152.1) scale(.935 1)">0.9</text>
<text transform="translate(1696.3 83.6) scale(.935 1)">1.0</text>
</g>
<g class="cl">
<text x="1784.6" y="671.4">WT</text>
<text x="1922.3" y="671.4">KO</text>
</g>
<text class="ti" transform="translate(1636.7 329.8) rotate(-90)">Circ [-]</text>
<path d="M1755.8 63.3H1914.9" stroke="#555" stroke-width="1.2"/>
<text class="sg" x="1845.8" y="64.9" style="font-size:29.5px">**</text>
<polyline class="pts" points="1750.8,116.5 1752.7,117.7 1762.5,116.6 1765.3,115.5 1766.6,116.1 1776.3,114.9 1747.7,118.3 1758.8,121 1763,120.6 1761.7,119.4 1770.4,118.6 1778.2,119.6 1747.2,124.2 1754.6,122.7 1758.9,122.4 1762.9,120.7 1773.3,121.4 1777.8,121.3 1751.8,127.4 1755.6,127.2 1757.2,126.2 1767.8,125.1 1773.7,127.9 1774.9,125.8 1753.6,128.8 1751.3,127.6 1761.8,131.2 1765.3,129.2 1770.8,130.2 1773.5,129.7 1747.3,131 1753.8,134.1 1758.9,132.8 1763.8,130.8 1767.1,133.6 1777.8,131.9 1752.9,137.5 1754.2,137.7 1763.7,136.1 1768.3,135.7 1769.5,134.7 1778.2,134.3 1751.9,137.9 1757.6,136.2 1758.2,137.1 1764.7,136.6 1767.1,137.3 1778.2,139.9 1747.9,143.2 1755.1,142.3 1756.5,140.2 1767.9,142.6 1773.4,141.8 1775,141.7 1750,144.1 1757,143.1 1761.6,146.8 1761.6,145.4 1771.6,146.4 1776.3,144 1752.9,146.4 1751.8,146.2 1756.4,147.7 1762.5,149.3 1771.7,146.4 1775.9,147.2 1747.2,149.6 1754,151.7 1760.5,149.1 1766.9,152.4 1772.6,152 1771.8,150.7 1747.3,154 1753,153.9 1758.7,151.3 1764.4,152.4 1773.6,152.3 1775.6,153.3 1751.2,156.9 1758.7,158.8 1760.9,157.7 1769.1,157.2 1771,158.2 1748.4,162.7 1751.9,159 1756.8,162 1767.3,160.5 1771.4,158.8 1776.7,160.5 1749,162.7 1751.5,163.5 1758.2,164.6 1767.7,164.7 1770.1,162.7 1774.7,163.7 1747.2,166.9 1754.9,167.9 1763.1,168.1 1766.3,168.1 1771.8,168.5 1777.2,167.8 1748.9,170.1 1757.5,171.5 1763.9,167.6 1763.8,168.8 1769.6,168.2 1776,167.9 1751.7,172.1 1751.9,174.1 1761.7,171.1 1764,172.8 1771.9,171.3 1778.2,171.6 1747.2,175.6 1752.6,175.3 1758.4,174.4 1768.7,174.7 1770,175.3 1773.9,173.6 1747.4,179.5 1751.3,178.9 1763.5,178.5 1761.6,177.7 1766.9,178.1 1777.2,176.6 1747.2,179.1 1754.6,181.4 1759.1,178.4 1767.5,181.1 1770.7,178 1773.2,179.5 1752.1,184.3 1758.2,184.5 1756.4,183.3 1762,184.5 1772.4,184 1773.2,181.2 1750.7,186.4 1757.3,185.8 1758.3,185.9 1763.7,187 1773.5,184.8 1772.3,186.5 1748,188.1 1751.4,189.8 1761.5,190.4 1762.6,188.2 1773.8,190 1774.9,190.6 1747.2,194.5 1752.7,191.4 1759,193.4 1766.3,191.9 1772.1,193.2 1773,194.6 1751.2,195.6 1757.1,198.4 1760.4,198.4 1768.9,196.3 1773.9,198.5 1777.9,194.8 1750.6,200.5 1756.1,198.2 1763.5,199.7 1768.2,198.3 1774.3,199.7 1777.8,200.5 1747.2,202.8 1752.5,203.3 1762.6,202.6 1762.4,201.3 1769.9,203.5 1771.9,203.9 1754.3,205.8 1760.2,205.8 1759.2,204.7 1768.2,206.3 1777.6,206.7 1749.2,208.5 1754.9,208 1760.4,208.8 1761.7,210.3 1771.1,210.2 1777.4,209.9 1754.1,210.9 1764.5,213.2 1770.9,214.8 1761.5,216.8 1766.5,213.8 1757.4,218.6 1761.8,219.3 1768.8,219.6 1757.2,222 1770,224.2 1762.9,228.9 1761.6,226.6 1762.7,230.2 1768.8,230.3 1758.7,234.9 1763.3,234.8 1757.2,236 1762.4,235.5 1754.9,242.7 1768.4,239.2 1758.2,245.1 1770.5,244.6 1757.3,248.2 1769.5,249.4 1755.6,253.4 1761,252.8 1759.9,256 1761.8,255.6 1756.9,257.8 1763.3,256.7 1760.3,262.8 1763.3,259.8 1757.8,266 1763.1,265.8 1756,268.9 1761.9,267.3 1759.2,272.8 1760.9,271.4 1756.6,276.5 1759.2,275.3 1770.2,276.4 1763.7,277.3 1770.2,280.1 1759.2,282.3 1761.5,288 1759.2,288.7 1759.2,292.7 1762.1,295.1 1761.9,300.2 1763.3,302.6 1760.6,305.4 1761.9,307.7 1766.2,310.9 1764.3,315.1 1761.4,318.4 1764.7,322.9 1766.2,324.7 1764.5,331.9 1766.2,333.6 1759.2,337.1 1760.3,342.5 1765.7,346.5 1766.2,349.3 1766.2,353.8 1760.5,355.1 1759.2,358.2 1759.2,363.8 1760.6,365.7 1761.6,370.8 1764.8,374 1764,376.3 1759.2,380.4 1763.6,386.6 1763.6,390.1 1762.2,394 1762.2,398.4 1761.3,402.9 1761.8,409.3 1762.9,414.9 1763.6,421.4 1761.8,427.2 1761.7,433.5 1762.2,440.2 1762,444.9 1763.4,450 1763,456.5 1762.3,460.8 1762.4,484.1 1762.4,489.6 1762.6,496.5 1763.3,500.6 1764.7,511.5 1760.7,520.4"/>
<path d="M1806.4 82.7H1790.1V373.2H1806.4" stroke="#000" stroke-width="2.4" fill="none"/>
<rect x="1790.1" y="152.6" width="33.1" height="126.7" fill="#c0c0c0" stroke="#000" stroke-width="2.4"/>
<path d="M1790.1 199.2H1823.2" stroke="#000" stroke-width="4.4"/>
<circle cx="1789.6" cy="227.9" r="3.3" fill="none" stroke="#000" stroke-width="0.9"/>
<text class="ml" x="1826" y="204.6">0.82</text>
<polyline class="pts" points="1885.2,136.8 1891.4,133.3 1901.6,134.2 1909.7,133.7 1915.2,134.1 1889.1,139.8 1894.3,136.3 1900.6,138.5 1901.3,136.9 1910.3,138.4 1915.2,139.2 1890,142.5 1892,143.9 1898.5,143.2 1910.3,142.7 1909,143.4 1885.2,145.6 1890,147.2 1900.3,145.6 1905.4,146.1 1915.2,144.7 1886.4,148.8 1894.6,148.1 1901.8,148.5 1902.5,150.4 1910.9,148.1 1891.1,151.4 1892,149.7 1900.7,150 1903,150.7 1906.4,150.8 1910.4,149.5 1888.8,153.3 1894.2,152.7 1897,155.9 1905.9,154.4 1910.3,154.5 1912.9,154.9 1888,159.5 1895.5,158 1902.8,159.8 1907.2,160.3 1907.9,158.5 1885.2,162.7 1893.6,161 1896.1,163.8 1904.9,160.4 1909.6,160.9 1886.2,164.1 1893.9,164.5 1898.8,166.6 1910,167 1908,165.2 1885.5,169.4 1893.1,170.5 1902.2,169.3 1903.9,168.4 1910.1,167.7 1891.7,173.5 1890.2,172.9 1901.1,171.1 1906.1,171 1914.6,170.9 1890.3,175.2 1893,174.8 1896.5,177.7 1905.1,174.3 1906.8,176.8 1910.3,177.5 1887,181.5 1894.3,178.8 1898.2,178.7 1909.2,180.1 1914,181.4 1887.4,185.6 1896.6,183.6 1901.6,182.8 1903.2,182.3 1911.1,183 1885.2,187.5 1895.4,187.6 1897.9,188.3 1899.1,189 1909.1,188.5 1915.1,185.6 1888.2,191.3 1897.9,189.2 1901.3,190.5 1904.7,191.5 1915.2,190.5 1888.8,192.7 1891.1,192.4 1894.4,195.1 1901.2,191.5 1906.3,191.8 1912.3,192.8 1887.4,195.4 1897,195.2 1900.6,197.5 1910.3,195.5 1908.1,197.8 1885.2,198.1 1892.5,197.7 1896.1,201.1 1909.1,197.6 1912,200.3 1888.7,201.8 1901,202.6 1903.1,202.8 1905.6,203 1890.4,205.1 1893.1,204.3 1900.1,205.8 1911.2,204.8 1892.7,207.1 1900.9,209.4 1901.4,208 1910.4,210.8 1892.1,210.6 1896.5,213.6 1903.5,213.2 1906.7,213.4 1891.9,216.3 1898,216 1900.8,215.8 1907.5,216.7 1892.4,217.4 1896.7,217 1905,216.7 1909.6,217.7 1894.7,223 1897.2,220.7 1906.3,222.8 1892.1,226.1 1896.4,226.7 1907.8,223.6 1891.6,226.1 1893.9,227.4 1900.9,227.1 1908.2,228.2 1889.2,232.1 1895.2,229.2 1902.8,232 1892.9,233.3 1896.8,234.9 1900.7,235.2 1907.8,232.2 1889.1,238.5 1901,237 1906.3,237.7 1908.8,235.6 1891.5,240.5 1893.9,241.5 1905.9,240.5 1906.7,241.4 1890.5,245.3 1895.2,246 1905.5,246.1 1889.3,246.4 1897.6,249 1910.7,248.5 1893.9,250.3 1894.1,250.7 1900.7,249.6 1907.5,249.1 1897.3,255.8 1894.9,256.4 1910.8,254.9 1889.4,257.4 1898.2,260.3 1910.9,257.3 1890.1,261.3 1899.3,260.5 1909,260.8 1892.3,267 1898.5,264.9 1903.3,265.1 1891.1,269.5 1895.7,267 1901.3,268.3 1910.8,267.5 1890.5,273.3 1904.8,270.4 1902.5,271.4 1892.3,276.1 1894.9,275.9 1909.2,276.1 1893.4,276.9 1900.3,277.3 1905.3,276.5 1893.6,280 1900.8,281 1904.4,279.5 1895.2,284.6 1901,282.7 1905.1,285.8 1892.5,289 1896,286.2 1907.1,289.2 1896.1,289.3 1898.1,291.3 1910.5,292.3 1891.9,292.4 1897.9,295 1910.5,293 1898.1,297.7 1899.3,297.5 1909.7,297.5 1896.3,298.9 1899.5,298.3 1905.7,301.2 1896.3,301.7 1898.7,303.3 1906.9,304.1 1893.9,308.4 1900.6,309.6 1907.9,308 1896.1,310.4 1904.3,311.8 1910.3,311.8 1890.2,315.2 1902.7,315.4 1909.5,312.7 1895,319.9 1903,318.3 1896.3,319.9 1895.8,322.9 1899.7,328.6 1900,329.6 1900.3,332.7 1897,336.3 1903.8,335.9 1896.4,338.9 1896.9,342.8 1899.6,346.7 1896.9,348.6 1898,351.3 1901.6,356 1896.5,359.5 1900.5,361.8 1903.2,366.6 1900.2,370.8 1901.2,372.7 1897,374.7 1903.3,381.1 1900.8,384.8 1903.1,387.1 1897.4,391.9 1901.7,398.9 1902.7,403.7 1901.2,408.4 1902.5,413.4 1899.3,420.3 1904.2,120.4 1899.5,448.5 1901,454 1899.6,460.8 1900.1,467.7 1900.4,482.1 1900.1,488.9 1899.7,494.4 1900.2,499.9 1899.8,519.7 1900.2,528 1900.5,534.8 1899.9,541.7"/>
<path d="M1944.2 112.2H1927.9V408.1H1944.2" stroke="#000" stroke-width="2.4" fill="none"/>
<rect x="1927.9" y="177.9" width="33.4" height="141.1" fill="#f04040" stroke="#000" stroke-width="2.4"/>
<path d="M1927.9 241H1961.3" stroke="#000" stroke-width="4.4"/>
<circle cx="1927.4" cy="260.1" r="3.3" fill="none" stroke="#000" stroke-width="0.9"/>
<text class="ml" x="1964.1" y="246.4">0.76</text>
</g>
<g>
<rect x="387.4" y="739.2" width="275" height="583.3" fill="#fff" stroke="#000" stroke-width="2.6"/>
<path d="M388.7 1322.5h-12.6M388.7 1257.7h-12.6M388.7 1192.9h-12.6M388.7 1128.1h-12.6M388.7 1063.3h-12.6M388.7 998.4h-12.6M388.7 933.6h-12.6M388.7 868.8h-12.6M388.7 804h-12.6M388.7 739.2h-12.6M388.7 1290.1h-7M388.7 1225.3h-7M388.7 1160.5h-7M388.7 1095.7h-7M388.7 1030.8h-7M388.7 966h-7M388.7 901.2h-7M388.7 836.4h-7M388.7 771.6h-7" stroke="#000" stroke-width="2.6" fill="none"/>
<path d="M456.1 1322.5v11.8M593.6 1322.5v11.8" stroke="#000" stroke-width="2.9" fill="none"/>
<g class="tl">
<text transform="translate(367.9 1332.3) scale(.935 1)">0.0</text>
<text transform="translate(367.9 1267.5) scale(.935 1)">0.1</text>
<text transform="translate(367.9 1202.7) scale(.935 1)">0.2</text>
<text transform="translate(367.9 1137.9) scale(.935 1)">0.3</text>
<text transform="translate(367.9 1073.1) scale(.935 1)">0.4</text>
<text transform="translate(367.9 1008.2) scale(.935 1)">0.5</text>
<text transform="translate(367.9 943.4) scale(.935 1)">0.6</text>
<text transform="translate(367.9 878.6) scale(.935 1)">0.7</text>
<text transform="translate(367.9 813.8) scale(.935 1)">0.8</text>
<text transform="translate(367.9 749) scale(.935 1)">0.9</text>
</g>
<g class="cl">
<text x="456.1" y="1372.1">WT</text>
<text x="593.6" y="1372.1">KO</text>
</g>
<text class="ti" transform="translate(308 1030.8) rotate(-90)">Width [µm]</text>
<path d="M435.1 804.1H573.1" stroke="#777" stroke-width="1.2"/>
<text class="sg" x="502" y="801.4" style="font-size:29.5px">****</text>
<polyline class="pts" points="432.4,1001.1 429.8,1004.2 432.6,1004.5 436.9,1005.8 428.6,1007.4 439.4,1008.9 431.8,1014 435.4,1015.3 429.8,1018.4 439.8,1021.5 434.3,1022.7 434.5,1023.3 428.4,1024.9 429.1,1025.4 439.4,1025.6 425,1031.5 430.2,1030.7 430,1028.3 437.4,1029.8 442.8,1028 444.2,1031.3 419,1032.4 429.6,1033.4 435.2,1031.6 436.2,1034 441.1,1034 447,1031.3 419,1034 425.3,1036.1 434.2,1035.1 436.5,1036.4 439.8,1034.7 447.3,1035.7 419,1038.4 429.7,1039.3 436.4,1036.5 442.4,1039.4 444.6,1035.5 419.1,1038.5 424.6,1041.8 429.9,1040.8 437.4,1039.1 448.9,1039.5 423.8,1042.9 431.2,1042.4 434.2,1043.7 439.7,1043.7 445.7,1041.4 423.3,1047 427.9,1045.6 429,1046.6 433.6,1044.9 438.8,1044.8 445.1,1044.9 419.7,1049.8 430.1,1050 429.8,1049.1 443.6,1047.7 443.3,1049.9 424.9,1051 425.3,1050.4 432.6,1052.3 438.8,1052.6 442.1,1050.5 422,1056.5 426,1053.5 429.8,1054.7 438.2,1054.7 441.6,1052.8 420,1059.3 427.1,1057.3 433.6,1056.6 437.3,1059 441.8,1056.9 443.5,1057.9 422.4,1061.9 429.6,1060.2 437.2,1059.4 439,1060.9 446.5,1059.1 419.6,1063.9 423.1,1064.9 432.9,1062.4 440.1,1064.3 438.2,1062.1 446.4,1065.1 420.3,1063.7 427.2,1065.7 433.5,1064.1 435.7,1066.7 445.5,1065.4 424.5,1069.9 428.2,1067.9 429,1066.9 439.2,1066.8 442,1070.2 445.2,1068.1 422.9,1072.8 423,1072.4 431.1,1071.1 438.9,1072.4 444.6,1072.4 449,1071.2 421.2,1073.2 427.1,1076.1 434.3,1073.2 435.6,1073.6 440.3,1076.5 445.9,1073.9 423.5,1076.7 425.2,1076.2 431.8,1078.9 437,1078.3 442.5,1078.5 421,1078.3 423.5,1081.2 431.8,1079.9 435.4,1080.7 441.4,1078.2 447.3,1079.2 424.5,1082.1 429.9,1084.1 437.2,1085.2 440.5,1084 448.4,1082.7 422.2,1087 429.2,1088.7 429.7,1085.1 437.4,1085.4 445,1086.7 446.8,1088.1 421.6,1089.2 427.6,1089.1 437.4,1089.9 439,1092.1 448.9,1089.9 419.2,1092.1 429.2,1092.2 433.1,1094.5 437.2,1093 444.2,1094.7 443.3,1095.2 419,1095.3 430.8,1098.3 432.6,1095.6 436.2,1096.6 444.2,1095.1 419,1099.2 426.6,1098.3 428,1097.9 433.8,1101.5 444.2,1100.4 449,1098.9 422.3,1103.9 425.4,1101.9 433.1,1103.8 434,1101.3 437.9,1102.5 449,1102.5 422.6,1103.1 429.6,1105.3 431.4,1104.1 434,1104.6 440.5,1103.6 447.6,1105.3 421.2,1109.4 425.6,1108.3 432,1110.5 433.1,1108.4 440.3,1109.8 449,1108.5 422.2,1111.6 428.6,1110.8 431.9,1112 433,1109.9 442.9,1112.8 449,1110 421.6,1113.4 428.9,1114.4 435.7,1116.6 436.7,1115.4 446.9,1113.9 423,1117.6 423.5,1118.7 430.7,1116.9 436.9,1116.8 444.9,1116.9 447.8,1118.1 420.6,1122.7 429,1120.4 437.4,1119.4 437.8,1119.2 447.5,1120.8 419.8,1124.4 430.3,1123.1 437.3,1121.8 440.6,1122.2 442.6,1123.8 419,1125.5 431,1125.1 430.6,1127 442.9,1127.9 441.9,1124.6 423.4,1130.4 426.3,1128.8 435.5,1127.8 439.7,1130.2 447.6,1129.7 428.4,1131.7 431.2,1130.9 443.9,1133 429.3,1135.9 434.8,1134.7 438.1,1135.7 428.6,1140 432.6,1140 436.1,1139.9 425.3,1144.8 436.3,1143.6 439,1145.1 424.6,1149.2 435.6,1147.2 438.3,1149.1 426.9,1150 440.4,1151.3 425.7,1153.3 436.7,1156.3 442.9,1155 427.2,1157.8 435.9,1159.6 431.2,1163.6 435.4,1166.5 433.4,1169.1 432.3,1173.1 435.7,1176.1 431.5,1182.5 434.4,1186.7 433.7,1191.5 433.9,1197.6 434.3,1203.3 433.4,923.1 434.5,926.8 434.4,948.2 433.6,951.3 433.3,969.6 433.5,976 433.3,987.2 434.1,993.5"/>
<path d="M478 1001.2H461.7V1166.6H478" stroke="#000" stroke-width="2.4" fill="none"/>
<rect x="461.7" y="1049.3" width="32.8" height="72.5" fill="#c0c0c0" stroke="#000" stroke-width="2.4"/>
<path d="M461.7 1087.4H494.5" stroke="#000" stroke-width="4.4"/>
<circle cx="461.2" cy="1084.6" r="3.3" fill="none" stroke="#000" stroke-width="0.9"/>
<text class="ml" x="497.3" y="1092.8">0.36</text>
<polyline class="pts" points="569.4,1043 567.8,1045 575.8,1050.7 574.9,1050.9 575.8,1056.2 567.8,1057.8 567.8,1061.8 570,1065 567.8,1070.7 575.2,1069.7 572.8,1072 570.6,1078.2 571.5,1080.9 567.8,1081.3 568,1086.4 563.8,1091.5 578.1,1091.5 569.4,1093.7 572,1093.2 574.9,1092.7 572,1097.2 577.1,1098.4 564.8,1099 570.1,1102.8 568.7,1103.9 575.5,1106.3 576.8,1103 566.2,1106.1 578.4,1109.7 567.1,1110.6 575.1,1110.2 579.7,1108.8 563.7,1116.7 578.5,1115.8 556.3,1118.4 569.8,1121.1 569.3,1118.9 577.5,1120.8 579.6,1120.5 556.3,1120.1 567,1121.8 572.9,1123.3 576.3,1120.1 580.2,1123.8 584.7,1120.1 562.6,1123.3 562.6,1125.2 569.3,1123.1 578.1,1124.8 578.5,1122.4 584.8,1125.3 561.5,1128.5 564.5,1126.7 573.1,1126.9 574.5,1125.9 581.5,1125.6 556.8,1130.6 563.9,1131 574.7,1128.2 574.8,1129.4 584,1129.3 560.9,1131.4 562.2,1133.3 567.6,1133.6 575.8,1129.6 579.1,1130.2 586.9,1131.3 561.2,1134.3 564.6,1132.2 573,1133.1 574.6,1133.9 579.3,1132 587.3,1133.9 561.7,1137.7 567.2,1136.2 566.2,1136.2 575.2,1137.9 581.4,1137.3 585.5,1137.5 559.8,1139.1 561.6,1140.4 575,1139.1 579.6,1140.5 585.9,1141.5 560.5,1142.8 564.8,1144.1 568.8,1143.9 582.1,1141.7 587.3,1144.2 556.3,1145 567.9,1146.8 566.6,1144.8 574,1146.5 583.3,1145.1 585.8,1146.1 556.3,1150.8 565.8,1148.6 566.3,1150.5 577.1,1148.9 576.7,1149.7 586,1148.9 556.3,1151.3 568,1150.9 569,1152.3 575.3,1151.4 586.4,1151.3 559.6,1156.4 565.1,1154.3 567.4,1154.7 577.2,1154 583.5,1155.6 562.4,1158.7 563.7,1159.2 572.7,1159.7 577.9,1158.9 583,1158.9 583.4,1156.4 557.1,1160.4 560.8,1159.1 567.3,1162.3 571,1159.5 578.8,1162.8 582.5,1159.1 556.3,1163.9 561.5,1162 567.9,1162.3 574.2,1161.9 581.4,1162.1 561.5,1164.6 575.7,1167.9 582.6,1167.3 562.2,1169.6 571,1171.6 575.4,1170.6 566.4,1171.9 568.4,1173.8 579.3,1175.6 562.2,1178.9 569.5,1179.5 568.7,1178.8 568,1181 580.3,1178.6 568.1,1183.5 567.2,1184.4 578.4,1183.6 565.4,1187.8 572.4,1188.7 580.7,1185.7 566.2,1190.6 573.7,1191.3 564.5,1194.9 574.8,1195.2 572.4,1198.7 575.3,1199 572.8,1200 571.9,1204.4 572.9,1210.3 573.3,1216.2 571.3,1222.3 572.3,1228.4 572.5,852.2 571.2,928.1 571.4,933.1 571.3,969.1 572.3,983 572.1,1017.4 571.9,1024.2"/>
<path d="M615.3 1048.5H599V1209.2H615.3" stroke="#000" stroke-width="2.4" fill="none"/>
<rect x="599" y="1101.2" width="33.3" height="62.3" fill="#f04040" stroke="#000" stroke-width="2.4"/>
<path d="M599 1137.2H632.3" stroke="#000" stroke-width="4.4"/>
<circle cx="598.5" cy="1129" r="3.3" fill="none" stroke="#000" stroke-width="0.9"/>
<text class="ml" x="635.1" y="1142.6">0.29</text>
</g>
<g>
<rect x="838.9" y="739.2" width="275" height="583.3" fill="#fff" stroke="#000" stroke-width="2.6"/>
<path d="M840.2 1280.8h-12.6M840.2 1197.3h-12.6M840.2 1113.8h-12.6M840.2 1030.3h-12.6M840.2 946.9h-12.6M840.2 863.4h-12.6M840.2 779.9h-12.6M840.2 1322.5h-7M840.2 1239h-7M840.2 1155.6h-7M840.2 1072.1h-7M840.2 988.6h-7M840.2 905.1h-7M840.2 821.7h-7M840.2 738.2h-7" stroke="#000" stroke-width="2.6" fill="none"/>
<path d="M907.6 1322.5v11.8M1045.2 1322.5v11.8" stroke="#000" stroke-width="2.9" fill="none"/>
<g class="tl">
<text transform="translate(819.4 1290.6) scale(.935 1)">0.0</text>
<text transform="translate(819.4 1207.1) scale(.935 1)">0.5</text>
<text transform="translate(819.4 1123.6) scale(.935 1)">1.0</text>
<text transform="translate(819.4 1040.1) scale(.935 1)">1.5</text>
<text transform="translate(819.4 956.7) scale(.935 1)">2.0</text>
<text transform="translate(819.4 873.2) scale(.935 1)">2.5</text>
<text transform="translate(819.4 789.7) scale(.935 1)">3.0</text>
</g>
<g class="cl">
<text x="907.6" y="1372.1">WT</text>
<text x="1045.2" y="1372.1">KO</text>
</g>
<text class="ti" transform="translate(759.4 1030.8) rotate(-90)">Length [µm]</text>
<path d="M886 796.7H1019.3" stroke="#777" stroke-width="1.2"/>
<text class="sg" x="950.9" y="790.6">n.s.</text>
<polyline class="pts" points="883.8,1031.2 887.4,1035.6 886.2,1041.3 884.6,1046.9 885.6,1053 886.1,1059.3 883,1064.4 886.2,1072.4 882.9,1077.4 886.8,1083.4 882.9,1088.4 882.8,1092 882.9,1100.1 882.8,1105.7 885.2,1109.7 884.9,1115 885.7,1120.8 881.1,1121.4 885.5,1126.7 884.8,1126.3 884.1,1129.4 888,1128.1 881.4,1132.4 888.8,1133.4 889.6,1135.1 882.3,1140.5 882.2,1143.6 889.1,1143 873.8,1143.7 883.8,1143.2 885.8,1145.2 890.8,1144.3 870.2,1149.6 878.4,1148.4 883.1,1147.6 891.2,1149.2 895.1,1145.7 898.4,1149.4 873.8,1149.5 879.4,1151.9 879.5,1150.8 888.4,1150.2 894.1,1152.5 900.2,1150 873.5,1154.5 880.5,1152.3 883.4,1152.4 889.9,1153.9 890.7,1153.2 898.4,1152.1 870.2,1155.6 881,1156.9 879.4,1156.9 889.3,1156.4 889.2,1156.6 895.4,1156.8 870.2,1159.7 875.6,1159.7 882.8,1156.8 888.9,1158.4 889.2,1159.5 896,1156.3 871.8,1160.4 877.9,1162 884.1,1161.6 888.2,1162.5 890.4,1160.4 897.6,1162.7 872.2,1166 874.7,1164.7 879.5,1166.5 891.4,1165.8 894.6,1164.6 899.9,1163.5 875.4,1166.5 875.1,1166.2 885.3,1167.1 890.7,1167.1 895.2,1166.6 900.2,1169.7 875.7,1173.1 881.2,1170.6 885.3,1172.6 886.5,1170.1 895.7,1171.3 897.9,1173 874.1,1174.5 876,1175.1 885.7,1173.4 890,1175.4 892.9,1173.2 898.9,1173.5 871,1175.3 880.3,1178.9 881.2,1176.5 888,1177.9 889,1177.5 895.7,1178.6 872.3,1180.4 874.2,1178.5 881.2,1179.2 885.2,1179.4 889.6,1180 900.2,1181.2 874.4,1183.4 877.4,1181.2 885.6,1184.5 890,1183.7 895,1184.7 900.2,1184 873.2,1184.8 877.2,1184.1 879.2,1185.5 888.6,1183.4 895.9,1186.6 900.2,1185.2 871.7,1189.6 880.8,1189.4 882.8,1187.8 889.1,1187 890.3,1189.7 896,1186.9 873.4,1189.4 882.2,1189.1 887.9,1189.8 893.8,1191.9 900.2,1189.4 871.9,1192.6 879.1,1192.8 885.7,1196.3 893.7,1195.1 893.5,1196.5 870.2,1196.4 881.1,1198.2 880.3,1197.1 888,1196.3 890.6,1195.6 897.8,1196.9 871.5,1199.5 879.7,1198.5 879.7,1199.7 886.1,1199.9 895.4,1201.7 900.1,1201.6 870.2,1201.6 875.9,1201.4 881.5,1204.2 887.8,1204.1 892.9,1203.5 899,1202.8 872.7,1205.1 874.7,1205.8 882,1204.7 891.1,1204.2 892.3,1205.1 897,1207.5 874.3,1211.4 876.1,1209.5 882.2,1211.2 886.2,1211.5 890.3,1210.6 898.7,1208 872.9,1210.8 878,1212.7 882.7,1212.2 890.6,1213.2 891.8,1212.3 898.7,1211.5 879.2,1214.1 884.2,1216.2 886.4,1217.8 885.1,1222.9 884.8,830.4 885,938 884.8,953.1 884.5,972.6 885.3,997.1 884.4,1004.8 885.1,1016.5"/>
<path d="M929.5 1058.7H913.2V1241.2H929.5" stroke="#000" stroke-width="2.4" fill="none"/>
<rect x="913.2" y="1126.8" width="32.8" height="65.6" fill="#c0c0c0" stroke="#000" stroke-width="2.4"/>
<path d="M913.2 1168.2H946" stroke="#000" stroke-width="4.4"/>
<circle cx="912.7" cy="1150" r="3.3" fill="none" stroke="#000" stroke-width="0.9"/>
<text class="ml" x="948.8" y="1173.6">0.68</text>
<polyline class="pts" points="1021,1030.4 1021.8,1035.1 1023.8,1041.2 1021.2,1047.9 1020.9,1053.1 1023,1057.6 1021.6,1061.6 1023.2,1067.5 1023.4,1072 1020.7,1078.4 1024,1084.8 1021.3,1089.7 1022.2,1096.6 1021,1100.7 1023.5,1107.2 1024.2,1113.6 1025.4,1119.1 1028,1124.7 1026.1,1126.6 1017.9,1130.3 1025.1,1133.5 1019.4,1139.1 1017.8,1142 1023,1140.6 1020.8,1146.3 1028.3,1146.7 1020,1147.6 1023.3,1150.7 1027,1151 1019.1,1154.8 1024.4,1161 1028.6,1162.8 1017.4,1165.9 1017.3,1169 1013.6,1175.4 1011.3,1174.9 1021.8,1174.1 1023.8,1174.5 1027.8,1173.7 1035.7,1175.8 1009.9,1176.3 1018.4,1179 1018.8,1178.1 1026.5,1176.2 1032.9,1177.7 1038.3,1177.7 1007.3,1181.4 1018.1,1181 1018.9,1177.9 1028.6,1181.5 1027.6,1179.6 1032.7,1180.7 1009.7,1183.3 1013.3,1184.6 1019.8,1181.9 1025.9,1184 1028.5,1182.3 1038.7,1183.7 1007.3,1184.8 1013.9,1186.3 1018.3,1184.8 1022.2,1186.5 1028.7,1187.6 1038.7,1184.2 1007.7,1187 1018.6,1188.7 1020.2,1189.6 1028,1187.2 1027.7,1188.2 1035.5,1188.3 1013.7,1190.2 1014.4,1191.2 1023.2,1190.8 1023.2,1191.6 1030.2,1190.9 1034.1,1193.5 1010.3,1192.9 1019.1,1196 1024.1,1196.4 1028.4,1193.3 1030.7,1193.5 1035.3,1192.9 1008,1198.6 1013.7,1197.1 1021.6,1199.4 1023.4,1198.3 1025.2,1196.6 1035.1,1197.7 1036.7,1198.4 1009.9,1201 1012.5,1201.5 1017.1,1198.4 1026.4,1200.3 1028.8,1198.1 1038.7,1198.6 1009.3,1203.1 1015.3,1204.5 1018.1,1203.6 1023.6,1202.3 1032.2,1201.9 1034.6,1203.8 1013.8,1207 1011.8,1203.8 1018.5,1206.7 1028.6,1206.5 1029.8,1203.6 1038.7,1205.8 1010.6,1206.2 1016.2,1207.3 1019.6,1209.9 1020.5,1206.6 1024.8,1208.3 1030.4,1208.5 1037.9,1206.9 1009.8,1212.9 1017.9,1209.7 1019.8,1210.4 1021.7,1212.4 1031.9,1210.4 1038,1211.5 1007.3,1215.7 1018.3,1214.3 1023,1214.5 1022.9,1212.7 1029.3,1215.7 1038.4,1215.6 1008,1216.2 1017.3,1219.3 1019.6,1218.3 1022.9,1219.5 1033.7,1219.7 1038.5,1219.3 1009.1,1221.7 1017.7,1221.4 1022.8,1219 1027.7,1218.4 1033.4,1221.4 1033.5,1221.2 1022.7,1221.8 1021.7,1221.6 1023.8,1225.1 1025.9,1225.6 1023.1,1230.5 1022.4,926 1023.8,951.4 1022.5,969.4 1023.7,1014"/>
<path d="M1066.2 1077.4H1049.9V1242.5H1066.2" stroke="#000" stroke-width="2.4" fill="none"/>
<rect x="1049.9" y="1135.9" width="34.4" height="65.3" fill="#f04040" stroke="#000" stroke-width="2.4"/>
<path d="M1049.9 1177.8H1084.3" stroke="#000" stroke-width="4.4"/>
<circle cx="1049.4" cy="1159.9" r="3.3" fill="none" stroke="#000" stroke-width="0.9"/>
<text class="ml" x="1087.1" y="1183.2">0.62</text>
</g>
<g>
<rect x="1262.9" y="738.6" width="275" height="583.7" fill="#fff" stroke="#000" stroke-width="2.6"/>
<path d="M1264.2 1291.6h-12.6M1264.2 1230.1h-12.6M1264.2 1168.7h-12.6M1264.2 1107.3h-12.6M1264.2 1045.8h-12.6M1264.2 984.4h-12.6M1264.2 922.9h-12.6M1264.2 861.5h-12.6M1264.2 800h-12.6M1264.2 738.6h-12.6M1264.2 1322.3h-7M1264.2 1260.9h-7M1264.2 1199.4h-7M1264.2 1138h-7M1264.2 1076.5h-7M1264.2 1015.1h-7M1264.2 953.6h-7M1264.2 892.2h-7M1264.2 830.8h-7M1264.2 769.3h-7" stroke="#000" stroke-width="2.6" fill="none"/>
<path d="M1331.7 1322.3v11.8M1469.2 1322.3v11.8" stroke="#000" stroke-width="2.9" fill="none"/>
<g class="tl">
<text transform="translate(1243.4 1301.4) scale(.935 1)">0</text>
<text transform="translate(1243.4 1239.9) scale(.935 1)">1</text>
<text transform="translate(1243.4 1178.5) scale(.935 1)">2</text>
<text transform="translate(1243.4 1117.1) scale(.935 1)">3</text>
<text transform="translate(1243.4 1055.6) scale(.935 1)">4</text>
<text transform="translate(1243.4 994.2) scale(.935 1)">5</text>
<text transform="translate(1243.4 932.7) scale(.935 1)">6</text>
<text transform="translate(1243.4 871.3) scale(.935 1)">7</text>
<text transform="translate(1243.4 809.8) scale(.935 1)">8</text>
<text transform="translate(1243.4 748.4) scale(.935 1)">9</text>
</g>
<g class="cl">
<text x="1331.7" y="1371.9">WT</text>
<text x="1469.2" y="1371.9">KO</text>
</g>
<text class="ti" transform="translate(1210 1030.5) rotate(-90)">AR (L/W)</text>
<path d="M1310.2 780.4H1450.3" stroke="#222" stroke-width="1.4"/>
<text class="sg" x="1384.5" y="775.9" style="font-size:29.5px">***</text>
<polyline class="pts" points="1309,1024 1310,1028.4 1309.2,1033 1308.7,1039.7 1309.8,1046.6 1309.4,1052.2 1308.5,1057.9 1308.7,1064.8 1310.2,1071.8 1308.2,1075.7 1310.1,1081.1 1309.4,1085.5 1310,1090.5 1309.9,1097.3 1308.4,1103.1 1312.3,1106.5 1309.9,1108 1305.7,1113.5 1312.3,1115.6 1305.8,1120.9 1311.6,1125.5 1311.8,1131.3 1306.5,1133.8 1314.4,1135.4 1301.2,1137.2 1305.8,1137.8 1314.8,1137.7 1305.6,1141.4 1306.8,1142.9 1310.7,1140.9 1307.6,1144.2 1312,1143.2 1314.1,1142.6 1306,1145.6 1308.7,1149 1310.4,1147.8 1304.2,1150.4 1312.6,1149.5 1315.8,1151.1 1301.2,1154.8 1307.3,1154.8 1316.8,1154.8 1302.5,1155.7 1307.5,1157 1312,1156.6 1314.3,1157.4 1301.2,1157.5 1311.9,1157.9 1313.5,1157.2 1301.2,1161.4 1312.4,1163.3 1310.3,1164.1 1304.1,1165.6 1306.2,1165.8 1312.4,1165.4 1293.3,1168.7 1298.2,1169 1303.5,1166.5 1305.9,1168.6 1311.2,1168.5 1313.1,1169.1 1314.2,1169.5 1319.9,1168.6 1321.1,1168.1 1297.9,1171.8 1298.9,1168.7 1306,1168.9 1307.1,1170.7 1313.1,1171 1315.5,1170.5 1321.6,1171.7 1321.9,1171.6 1293.3,1171.8 1301,1172.3 1303.6,1172.3 1304.1,1172.2 1310.7,1171.9 1312.3,1174.7 1316.1,1171.5 1316.9,1174.8 1321.9,1171.8 1294,1174.6 1296.9,1175.9 1303.5,1174.4 1306.9,1176.7 1309.3,1175.6 1310,1176 1315.5,1176.7 1317.2,1174.7 1320.4,1176 1294.7,1177.2 1296.9,1179.6 1301.9,1176.3 1305.9,1178.9 1308.9,1179.4 1314.3,1178.6 1313.5,1177.5 1319.5,1176.6 1323,1178.5 1296.3,1179.9 1299.1,1180.7 1303.4,1179.2 1303.8,1181.6 1310.2,1179.6 1313.9,1181.8 1316.7,1180.6 1317.1,1179.6 1324.3,1182.4 1294.4,1184.5 1297.5,1184.4 1304.8,1184.1 1309.9,1183.4 1309.2,1182.4 1314.3,1183.4 1317.9,1183.6 1320,1181.6 1296.7,1186.3 1296.8,1184.7 1300.2,1183.8 1304.9,1185.6 1312.9,1186.2 1313.6,1184.4 1317.2,1185.4 1321.1,1185.9 1297,1188.9 1297.3,1188.1 1300.8,1185.3 1307.3,1186 1307.9,1188.1 1314.3,1186.8 1317.1,1186.8 1316.9,1187.4 1321.2,1186.1 1293.6,1188.4 1298.9,1188.7 1302.3,1190.3 1304.5,1191.2 1311.4,1187.7 1310.2,1188 1315.9,1188.8 1320.7,1191.5 1322.7,1188.7 1296.7,1193.2 1301.1,1191.5 1303.3,1191 1303.6,1192.4 1308.3,1191.8 1312.8,1190.6 1313.5,1192.6 1320.8,1192.7 1322.1,1191 1296.3,1194.4 1298.7,1195.7 1300,1193.1 1305.6,1195.7 1311.2,1195.8 1310.9,1193.6 1314.7,1193.2 1317.8,1192.9 1324.6,1194.4 1296.4,1199.2 1298.8,1196.4 1301.5,1197.2 1303.7,1197.7 1310.4,1196.7 1310,1195.8 1315.3,1196.2 1319.3,1199.3 1321.6,1196.9 1297.8,1202 1296.7,1199.6 1305,1198.1 1307.4,1201.3 1313.5,1198.8 1317.2,1200.4 1319.9,1199 1319.8,1200 1300.5,1205.1 1301.4,1203 1307.8,1201.3 1309.4,1201.9 1314.1,1203.2 1317.1,1202.8 1322.1,1204.5 1297.4,1206.7 1304.3,1206.2 1306.5,1206.6 1307.7,1204.2 1314.5,1205.6 1314.7,1206.4 1319.9,1203.1 1301.7,1206.4 1301.4,1206.4 1308.6,1206.3 1309.6,1207.4 1313.6,1207.2 1315.5,1208.2 1300.2,1208.3 1302.9,1210.9 1306.6,1210 1313.5,1211.6 1317.2,1211.1 1300.8,1214.3 1305.5,1212.9 1309.9,1211.7 1314.5,1212.9 1302,1216.5 1311.5,1215.7 1312.2,1217.6 1306,1219.5 1316,1230.1 1309,995.7 1308.9,818.5 1308.4,858.7 1309.4,886.1 1309.6,920.5 1309.2,954.3"/>
<path d="M1353.4 1063.8H1337.1V1251.9H1353.4" stroke="#000" stroke-width="2.4" fill="none"/>
<rect x="1337.1" y="1140.7" width="33.1" height="57.5" fill="#c0c0c0" stroke="#000" stroke-width="2.4"/>
<path d="M1337.1 1177.7H1370.2" stroke="#000" stroke-width="4.4"/>
<circle cx="1336.6" cy="1158" r="3.3" fill="none" stroke="#000" stroke-width="0.9"/>
<text class="ml" x="1373" y="1183.1">1.85</text>
<polyline class="pts" points="1446,1009.1 1447,1015.2 1446.8,1022 1446,1028.7 1446.7,1035.7 1446.5,1040.1 1446.9,1050 1445.2,1053.9 1445.8,1058.3 1448.2,1063 1448.6,1068.2 1448.8,1074.8 1447.3,1081.6 1448.8,1087.6 1445.3,1093.1 1447.1,1098.6 1443.2,1103.9 1446.1,1105.3 1447.4,1109.5 1443.2,1111.1 1447.7,1116 1450.4,1118.4 1450.8,1124.1 1443.9,1129.4 1444.9,1133 1448.3,1131.2 1453.5,1131.4 1440.8,1134.5 1443.4,1136.3 1449.5,1137.1 1443.1,1137.9 1446.7,1137.5 1452.6,1140.5 1445.7,1141 1444.7,1140.7 1454.8,1140 1443.8,1146.6 1449.7,1143.8 1452.6,1144.3 1439.2,1148.2 1443.8,1147.5 1453.8,1147.9 1439.8,1152.2 1446.1,1151.2 1449.8,1151.3 1454.8,1151.8 1441.9,1155.2 1444,1153.3 1454.8,1151.8 1441.8,1155 1446.7,1155.8 1449.1,1158 1451.8,1155.7 1439.2,1159.8 1449.6,1157.2 1452.4,1160.2 1442,1163.1 1447.2,1164.3 1454.8,1164.2 1442.5,1164.9 1445.2,1163.6 1454.4,1165.8 1433.9,1166.3 1434.5,1168.5 1439,1165 1443,1166.3 1447.8,1167.7 1448.3,1166.5 1456.3,1166.6 1459.7,1168.3 1462.8,1167.3 1431.7,1167.8 1436.4,1168.7 1441.3,1168.7 1445.7,1169.7 1447.8,1167.7 1451.3,1168.6 1455.5,1167.7 1459.2,1169.4 1459.5,1170.3 1431.9,1170.6 1437.9,1172.7 1439.7,1171.2 1443.3,1169.5 1449.1,1170.7 1448,1170 1453,1172.2 1455.9,1169.7 1463,1170.3 1431,1173 1436.3,1174.3 1440,1176 1447.7,1174.4 1451.9,1175.6 1455.9,1174.5 1454.6,1174.4 1458.3,1173.8 1433.8,1179.1 1437.4,1176.8 1440,1175.8 1445,1177.9 1446.1,1177 1452.4,1175.5 1452.6,1177.8 1459.2,1177.5 1461.9,1175.3 1431,1180 1435,1179.2 1441.4,1181.2 1440.8,1178.2 1447.7,1181.6 1451.3,1179.2 1455.4,1181.5 1455.3,1178 1460.9,1180.7 1431,1181 1433.9,1182.2 1438.6,1182.7 1443.3,1181.7 1448.4,1181.7 1450.4,1182.2 1455.2,1184.3 1458.9,1180.4 1462.6,1182.5 1431,1183.1 1434.7,1183.5 1442.3,1186.1 1444.5,1183.9 1448.6,1183.5 1451.5,1184.8 1459.4,1186 1458.7,1186.2 1431,1188.5 1438.7,1187.2 1440.3,1188.7 1445.9,1189.5 1446.8,1188.6 1449,1189.5 1452.7,1188.9 1455.8,1189.1 1462.9,1186.6 1432.9,1189.5 1438.6,1191.9 1437.6,1189.5 1442.2,1189.1 1447.3,1191.4 1450.5,1190.6 1452.3,1190.4 1459.5,1188.9 1459.8,1190.6 1434.1,1194.9 1436.3,1195 1442.2,1194 1442.4,1193.2 1449.3,1194.4 1450.4,1192 1452.8,1192.6 1459.2,1192.7 1461.3,1191.8 1431,1194.2 1436.6,1196 1441.2,1195 1444.4,1197.1 1444.5,1195.6 1449.1,1197.2 1452.2,1194.7 1456.9,1196.4 1462.2,1193.6 1431,1196 1436.2,1199.1 1442.6,1196.7 1442.3,1198.4 1447.4,1197.3 1448.7,1199.2 1453.5,1197 1457.7,1196.2 1461.1,1196.3 1434,1202 1437.3,1198.4 1440.6,1199.2 1442,1200.7 1446.1,1201.6 1450.7,1198.7 1452.1,1198.3 1460,1201.8 1461,1201.7 1445.7,1203.8 1446.4,1203.4 1444.3,1206.7 1447.9,1212.4 1445.1,1216.4 1447.4,1222.3 1446.2,1226.5 1447.8,862.7 1447.6,872.5 1447.2,937.1 1446.3,940.7 1446.7,944.4 1446.7,947.5 1446.9,965.9 1447.7,974.5 1447.7,980.7 1446.5,984.4 1447.1,990.5 1447.6,996.7 1447.8,999.7"/>
<path d="M1490.8 1031.7H1474.5V1243.5H1490.8" stroke="#000" stroke-width="2.4" fill="none"/>
<rect x="1474.5" y="1115.1" width="33.4" height="72.1" fill="#f04040" stroke="#000" stroke-width="2.4"/>
<path d="M1474.5 1160.9H1507.9" stroke="#000" stroke-width="4.4"/>
<circle cx="1474" cy="1138.1" r="3.3" fill="none" stroke="#000" stroke-width="0.9"/>
<text class="ml" x="1510.7" y="1166.3">2.12</text>
</g>
<g>
<rect x="1715.8" y="738.9" width="275.3" height="583.4" fill="#fff" stroke="#000" stroke-width="2.6"/>
<path d="M1717.1 1289.9h-12.6M1717.1 1225h-12.6M1717.1 1160.1h-12.6M1717.1 1095.2h-12.6M1717.1 1030.3h-12.6M1717.1 965.4h-12.6M1717.1 900.5h-12.6M1717.1 835.6h-12.6M1717.1 770.7h-12.6M1717.1 1322.3h-7M1717.1 1257.4h-7M1717.1 1192.5h-7M1717.1 1127.6h-7M1717.1 1062.7h-7M1717.1 997.8h-7M1717.1 932.9h-7M1717.1 868h-7M1717.1 803.1h-7M1717.1 738.3h-7" stroke="#000" stroke-width="2.6" fill="none"/>
<path d="M1784.6 1322.3v11.8M1922.3 1322.3v11.8" stroke="#000" stroke-width="2.9" fill="none"/>
<g class="tl">
<text transform="translate(1696.3 1299.7) scale(.935 1)">0.0</text>
<text transform="translate(1696.3 1234.8) scale(.935 1)">0.1</text>
<text transform="translate(1696.3 1169.9) scale(.935 1)">0.2</text>
<text transform="translate(1696.3 1105) scale(.935 1)">0.3</text>
<text transform="translate(1696.3 1040.1) scale(.935 1)">0.4</text>
<text transform="translate(1696.3 975.2) scale(.935 1)">0.5</text>
<text transform="translate(1696.3 910.3) scale(.935 1)">0.6</text>
<text transform="translate(1696.3 845.4) scale(.935 1)">0.7</text>
<text transform="translate(1696.3 780.5) scale(.935 1)">0.8</text>
</g>
<g class="cl">
<text x="1784.6" y="1371.9">WT</text>
<text x="1922.3" y="1371.9">KO</text>
</g>
<text class="ti" transform="translate(1636.4 1030.6) rotate(-90)">Area [µm<tspan font-size="24" dy="-13">2</tspan><tspan dy="13">]</tspan></text>
<path d="M1764.4 784.6H1903.5" stroke="#555" stroke-width="1.2"/>
<text class="sg" x="1834.3" y="775.6">n.s.</text>
<polyline class="pts" points="1765.1,973.3 1762.6,978.3 1759.7,984.6 1764,990 1765,993.2 1761,999 1764.1,999.6 1761.7,1003.3 1758.8,1007 1760.2,1010 1763.8,1009.9 1764.2,1012.7 1761.4,1016.6 1765.2,1021.9 1767.4,1024.5 1767.6,1026.6 1762.8,1031.9 1764.8,1033.5 1757.7,1036.4 1767.1,1034.9 1760.7,1038.5 1765.2,1037.9 1761.2,1040.4 1760.8,1044.5 1766.1,1044.7 1762.7,1047.7 1762.2,1054.1 1761.8,1056.2 1761.9,1054.3 1758.7,1060.6 1763,1057.4 1757.2,1062 1765,1063.9 1760.2,1068.4 1765.2,1065.9 1761.2,1069.9 1768.3,1070 1763.5,1071.3 1768.4,1072.3 1762.3,1075.3 1763.6,1076.4 1758.6,1078.5 1765.6,1077.1 1759.4,1080.1 1766.4,1082 1756.9,1084.7 1761.6,1084.9 1760.1,1086.3 1765.2,1085.9 1760.7,1089.7 1766.7,1091.6 1762.7,1093.2 1759,1099.1 1766,1097.5 1755.9,1102.1 1760.4,1105.3 1769.8,1105.1 1758,1111.4 1759.5,1111.9 1767.3,1109.5 1754.7,1112.6 1770.3,1113.2 1762.4,1120.1 1765.7,1119.4 1754.2,1124.5 1768.2,1122.8 1771.5,1120.6 1752.5,1125.6 1755,1127.2 1768.4,1127.1 1777.2,1124.8 1749.3,1127.4 1756.1,1128 1770,1129.3 1770.6,1129.2 1747.8,1131 1757.4,1133.6 1764.1,1130.6 1769.6,1133 1777.6,1132.6 1753.8,1136.6 1755.6,1136.4 1766.2,1133.9 1771.1,1133.4 1753.1,1138.3 1756.2,1138.7 1770.3,1137.6 1772.6,1138.6 1755.7,1143.3 1762.9,1144.3 1769.9,1140.9 1768.9,1142.9 1752,1145.8 1762,1146.8 1763.3,1146 1773.4,1145.5 1754,1149.2 1754.5,1150 1763.7,1148.9 1769.3,1147.9 1752,1152 1760.8,1151.8 1764.2,1151.3 1772.5,1154.7 1777.3,1152.5 1756.4,1156.8 1756.3,1158.1 1765.5,1157.3 1777.3,1157.5 1751.3,1161.2 1757.7,1157.9 1762.2,1161.2 1772.8,1157.2 1748.7,1164.4 1764.5,1161.5 1763.1,1161.3 1769.2,1160.7 1751.2,1165.3 1760.4,1164.2 1769.3,1164.6 1773.7,1164.5 1750.8,1168.4 1754.8,1170 1764.5,1169.3 1770.1,1166.8 1748.4,1174.8 1758.3,1171.1 1767.8,1172.4 1777,1174.4 1750.1,1178.6 1763.8,1175.9 1761.5,1175.2 1773.7,1177.4 1750.8,1180.8 1758.1,1182.6 1763.2,1179.5 1770.1,1182.7 1749.4,1183.4 1755.8,1185.8 1761.8,1182.5 1775.3,1183.8 1756.3,1185.7 1759.8,1186 1766.2,1186.7 1772.3,1186.4 1754.6,1189.2 1755.2,1188.1 1768.6,1188.4 1776.7,1189.8 1753.5,1194.2 1763.6,1191.2 1767.4,1192.6 1776.7,1191 1753.2,1195.7 1755.1,1194.5 1770.1,1195.1 1775.2,1193.9 1752.8,1199.8 1757.1,1198.8 1774,1197.4 1759.6,1202 1759.8,1202.1 1767.3,1201.5 1760.3,1206.7 1766.3,1206.8 1759,1211.5 1760.8,1210.4 1769.4,1211.1 1755.6,1215.7 1765.1,1213.3 1761.7,1217.5 1769.4,1217.7 1769,1220.7 1761.2,1227.4 1763,1227.2 1762.2,1232.3 1763.4,832.3 1762.7,860.3 1763.4,871.9 1762,884.3 1761.9,894 1762.6,900.5 1763.3,907 1763.3,923.2 1763.5,929 1763.2,934.2 1762.5,939.4 1763.1,949.2 1763.1,962.1 1762.7,967.3"/>
<path d="M1806.4 976.4H1790.1V1240.1H1806.4" stroke="#000" stroke-width="2.4" fill="none"/>
<rect x="1790.1" y="1053" width="33.1" height="123.9" fill="#c0c0c0" stroke="#000" stroke-width="2.4"/>
<path d="M1790.1 1135.4H1823.2" stroke="#000" stroke-width="4.4"/>
<circle cx="1789.6" cy="1108.8" r="3.3" fill="none" stroke="#000" stroke-width="0.9"/>
<text class="ml" x="1826" y="1140.8">0.24</text>
<polyline class="pts" points="1902.6,973.3 1900.1,978.3 1897.2,984.6 1901.5,990 1902.5,993.2 1898.5,999 1901.6,999.6 1899.2,1003.3 1896.3,1007 1897.7,1010 1901.3,1009.9 1901.7,1012.7 1898.9,1016.6 1902.7,1021.9 1904.9,1024.5 1905.1,1026.6 1900.3,1031.9 1902.3,1033.5 1895.2,1036.4 1904.6,1034.9 1898.2,1038.5 1902.7,1037.9 1898.7,1040.4 1898.3,1044.5 1903.6,1044.7 1900.2,1047.7 1899.7,1054.1 1899.3,1056.2 1899.4,1054.3 1896.2,1060.6 1900.5,1057.4 1894.7,1062 1902.5,1063.9 1897.7,1068.4 1902.7,1065.9 1898.7,1069.9 1905.8,1070 1901,1071.3 1905.9,1072.3 1899.8,1075.3 1901.1,1076.4 1896.1,1078.5 1903.1,1077.1 1896.9,1080.1 1903.9,1082 1894.4,1084.7 1899.1,1084.9 1897.6,1086.3 1902.7,1085.9 1898.2,1089.7 1904.2,1091.6 1900.2,1093.2 1896.5,1099.1 1903.5,1097.5 1893.4,1102.1 1897.9,1105.3 1907.3,1105.1 1895.5,1111.4 1897,1111.9 1904.8,1109.5 1892.2,1112.6 1907.8,1113.2 1899.9,1120.1 1903.2,1119.4 1891.7,1124.5 1905.7,1122.8 1909,1120.6 1890,1125.6 1892.5,1127.2 1905.9,1127.1 1914.7,1124.8 1886.8,1127.4 1893.6,1128 1907.5,1129.3 1908.1,1129.2 1885.3,1131 1894.9,1133.6 1901.6,1130.6 1907.1,1133 1915.1,1132.6 1891.3,1136.6 1893.1,1136.4 1903.7,1133.9 1908.6,1133.4 1890.6,1138.3 1893.7,1138.7 1907.8,1137.6 1910.1,1138.6 1893.2,1143.3 1900.4,1144.3 1907.4,1140.9 1906.4,1142.9 1889.5,1145.8 1899.5,1146.8 1900.8,1146 1910.9,1145.5 1891.5,1149.2 1892,1150 1901.2,1148.9 1906.8,1147.9 1889.5,1152 1898.3,1151.8 1901.7,1151.3 1910,1154.7 1914.8,1152.5 1893.9,1156.8 1893.8,1158.1 1903,1157.3 1914.8,1157.5 1888.8,1161.2 1895.2,1157.9 1899.7,1161.2 1910.3,1157.2 1886.2,1164.4 1902,1161.5 1900.6,1161.3 1906.7,1160.7 1888.7,1165.3 1897.9,1164.2 1906.8,1164.6 1911.2,1164.5 1888.3,1168.4 1892.3,1170 1902,1169.3 1907.6,1166.8 1885.9,1174.8 1895.8,1171.1 1905.3,1172.4 1914.5,1174.4 1887.6,1178.6 1901.3,1175.9 1899,1175.2 1911.2,1177.4 1888.3,1180.8 1895.6,1182.6 1900.7,1179.5 1907.6,1182.7 1886.9,1183.4 1893.3,1185.8 1899.3,1182.5 1912.8,1183.8 1893.8,1185.7 1897.3,1186 1903.7,1186.7 1909.8,1186.4 1892.1,1189.2 1892.7,1188.1 1906.1,1188.4 1914.2,1189.8 1891,1194.2 1901.1,1191.2 1904.9,1192.6 1914.2,1191 1890.7,1195.7 1892.6,1194.5 1907.6,1195.1 1912.7,1193.9 1890.3,1199.8 1894.6,1198.8 1911.5,1197.4 1897.1,1202 1897.3,1202.1 1904.8,1201.5 1897.8,1206.7 1903.8,1206.8 1896.5,1211.5 1898.3,1210.4 1906.9,1211.1 1893.1,1215.7 1902.6,1213.3 1899.2,1217.5 1906.9,1217.7 1906.5,1220.7 1898.7,1227.4 1900.5,1227.2 1899.7,1232.3 1900.9,832.3 1900.2,860.3 1900.9,871.9 1899.5,884.3 1899.4,894 1900.1,900.5 1900.8,907 1900.8,923.2 1901,929 1900.7,934.2 1900,939.4 1900.6,949.2 1900.6,962.1 1900.2,967.3"/>
<path d="M1944.2 976.4H1927.9V1240.1H1944.2" stroke="#000" stroke-width="2.4" fill="none"/>
<rect x="1927.9" y="1053" width="33.4" height="123.9" fill="#f04040" stroke="#000" stroke-width="2.4"/>
<path d="M1927.9 1135.4H1961.3" stroke="#000" stroke-width="4.4"/>
<circle cx="1927.4" cy="1108.8" r="3.3" fill="none" stroke="#000" stroke-width="0.9"/>
<text class="ml" x="1964.1" y="1140.8">0.24</text>
</g>
<g>
<rect x="391.9" y="1468" width="275.1" height="583" fill="#fff" stroke="#000" stroke-width="2.6"/>
<path d="M393.2 2023.2h-12.6M393.2 1967.7h-12.6M393.2 1912.2h-12.6M393.2 1856.7h-12.6M393.2 1801.1h-12.6M393.2 1745.6h-12.6M393.2 1690.1h-12.6M393.2 1634.6h-12.6M393.2 1579h-12.6M393.2 1523.5h-12.6M393.2 1468h-12.6M393.2 2051h-7M393.2 1995.5h-7M393.2 1940h-7M393.2 1884.4h-7M393.2 1828.9h-7M393.2 1773.4h-7M393.2 1717.9h-7M393.2 1662.3h-7M393.2 1606.8h-7M393.2 1551.3h-7M393.2 1495.8h-7" stroke="#000" stroke-width="2.6" fill="none"/>
<path d="M460.7 2051v11.8M598.2 2051v11.8" stroke="#000" stroke-width="2.9" fill="none"/>
<g class="tl">
<text transform="translate(372.4 2033) scale(.935 1)">-2</text>
<text transform="translate(372.4 1977.5) scale(.935 1)">0</text>
<text transform="translate(372.4 1922) scale(.935 1)">2</text>
<text transform="translate(372.4 1866.5) scale(.935 1)">4</text>
<text transform="translate(372.4 1810.9) scale(.935 1)">6</text>
<text transform="translate(372.4 1755.4) scale(.935 1)">8</text>
<text transform="translate(372.4 1699.9) scale(.935 1)">10</text>
<text transform="translate(372.4 1644.4) scale(.935 1)">12</text>
<text transform="translate(372.4 1588.8) scale(.935 1)">14</text>
<text transform="translate(372.4 1533.3) scale(.935 1)">16</text>
<text transform="translate(372.4 1477.8) scale(.935 1)">18</text>
</g>
<g class="cl">
<text x="460.7" y="2100.6">WT</text>
<text x="598.2" y="2100.6">KO</text>
</g>
<text class="ti" transform="translate(321.3 1759.5) rotate(-90)">Cristae/mitochondrion</text>
<path d="M435.3 1512.5H575.3" stroke="#000" stroke-width="2.6"/>
<text class="sg" x="512.6" y="1508.4" style="font-size:29.5px">***</text>
<polyline class="pts" points="438.5,1551.3 438.5,1579 438.5,1634.6 437.8,1662.3 439.2,1662.3 437.8,1690.1 439.2,1690.1 435,1717.9 437.3,1717.9 439.7,1717.9 442,1717.9 438.5,1745.6 435.5,1773.4 438.5,1773.4 441.5,1773.4 431.2,1801.1 433.7,1801.1 436.1,1801.1 438.5,1801.1 440.9,1801.1 443.3,1801.1 445.8,1801.1 423,1828.9 425.6,1828.9 428.2,1828.9 430.8,1828.9 433.3,1828.9 435.9,1828.9 438.5,1828.9 441.1,1828.9 443.7,1828.9 446.2,1828.9 448.8,1828.9 451.4,1828.9 454,1828.9 433,1856.7 435.8,1856.7 438.5,1856.7 441.2,1856.7 444,1856.7 431.2,1884.4 433.7,1884.4 436.1,1884.4 438.5,1884.4 440.9,1884.4 443.3,1884.4 445.8,1884.4 434.2,1912.2 437.1,1912.2 439.9,1912.2 442.8,1912.2 434.5,1967.7 437.2,1967.7 439.8,1967.7 442.5,1967.7"/>
<path d="M482 1684.5H465.7V1952.4H482" stroke="#000" stroke-width="2.4" fill="none"/>
<rect x="465.7" y="1773.4" width="33.6" height="111" fill="#c0c0c0" stroke="#000" stroke-width="2.4"/>
<path d="M465.7 1828.9H499.3" stroke="#000" stroke-width="4.4"/>
<circle cx="465.2" cy="1818.1" r="3.3" fill="none" stroke="#000" stroke-width="0.9"/>
<text class="ml" x="502.1" y="1834.3">5.00</text>
<polyline class="pts" points="576.1,1579 576.1,1662.3 576.1,1690.1 572.6,1717.9 574.9,1717.9 577.3,1717.9 579.6,1717.9 570.6,1745.6 573.4,1745.6 576.1,1745.6 578.9,1745.6 581.6,1745.6 576.1,1773.4 570.1,1801.1 572.5,1801.1 574.9,1801.1 577.3,1801.1 579.7,1801.1 582.1,1801.1 566.9,1828.9 569.5,1828.9 572.1,1828.9 574.8,1828.9 577.4,1828.9 580.1,1828.9 582.7,1828.9 585.4,1828.9 560.6,1856.7 563.2,1856.7 565.8,1856.7 568.4,1856.7 570.9,1856.7 573.5,1856.7 576.1,1856.7 578.7,1856.7 581.3,1856.7 583.9,1856.7 586.4,1856.7 589,1856.7 591.6,1856.7 566.1,1884.4 568.6,1884.4 571.1,1884.4 573.6,1884.4 576.1,1884.4 578.6,1884.4 581.1,1884.4 583.6,1884.4 586.1,1884.4 571.6,1912.2 574.6,1912.2 577.6,1912.2 580.6,1912.2 560.6,1967.7 563.2,1967.7 565.8,1967.7 568.4,1967.7 570.9,1967.7 573.5,1967.7 576.1,1967.7 578.7,1967.7 581.3,1967.7 583.9,1967.7 586.4,1967.7 589,1967.7 591.6,1967.7"/>
<path d="M620.9 1724.5H604.6V1977.4H620.9" stroke="#000" stroke-width="2.4" fill="none"/>
<rect x="604.6" y="1801.1" width="32.5" height="111" fill="#f04040" stroke="#000" stroke-width="2.4"/>
<path d="M604.6 1856.7H637.1" stroke="#000" stroke-width="4.4"/>
<circle cx="604.1" cy="1850.8" r="3.3" fill="none" stroke="#000" stroke-width="0.9"/>
<text class="ml" x="639.9" y="1862.1">4.00</text>
</g>
<g>
<rect x="832.6" y="1467.7" width="276" height="583.3" fill="#fff" stroke="#000" stroke-width="2.6"/>
<path d="M833.9 2051h-12.6M833.9 1944.9h-12.6M833.9 1838.9h-12.6M833.9 1732.8h-12.6M833.9 1626.8h-12.6M833.9 1520.7h-12.6M833.9 1998h-7M833.9 1891.9h-7M833.9 1785.9h-7M833.9 1679.8h-7M833.9 1573.8h-7M833.9 1467.7h-7" stroke="#000" stroke-width="2.6" fill="none"/>
<path d="M901.6 2051v11.8M1039.6 2051v11.8" stroke="#000" stroke-width="2.9" fill="none"/>
<g class="tl">
<text transform="translate(813.1 2060.8) scale(.935 1)">-0.2</text>
<text transform="translate(813.1 1954.7) scale(.935 1)">0.0</text>
<text transform="translate(813.1 1848.7) scale(.935 1)">0.2</text>
<text transform="translate(813.1 1742.6) scale(.935 1)">0.4</text>
<text transform="translate(813.1 1636.6) scale(.935 1)">0.6</text>
<text transform="translate(813.1 1530.5) scale(.935 1)">0.8</text>
</g>
<g class="cl">
<text x="901.6" y="2100.6">WT</text>
<text x="1039.6" y="2100.6">KO</text>
</g>
<text class="ti" transform="translate(743.3 1759.3) rotate(-90)">Cristae Length</text>
<path d="M892.2 1508.4H1031.8" stroke="#000" stroke-width="2.6"/>
<text class="sg" x="961" y="1505.2" style="font-size:29.5px">***</text>
<polyline class="pts" points="880.1,1649.7 875.5,1655 884.1,1655.6 873.8,1655.2 878.5,1656.7 878,1661.4 881.5,1658.8 883.5,1661.1 872.7,1661.9 879.9,1664 886.1,1663.5 879.9,1665.3 885.7,1663.4 873,1666.4 881.9,1669 882.4,1665.7 878.2,1669.4 887.1,1668 879.7,1672.6 880.4,1673.4 872.4,1678.5 882.5,1675.3 873.6,1679.6 875.7,1681.8 887,1681.7 872.3,1684.6 881.9,1684.1 885.1,1683.8 872.1,1689.8 882.1,1687.6 883,1688.7 878,1693.1 881.2,1691.2 882.3,1689.5 875.3,1694.1 877.1,1695.6 882.4,1693.2 872.5,1700.1 877,1700.1 883,1699.8 872.6,1703.9 879.4,1702.2 881.6,1701.1 872.9,1707.1 874.8,1708.2 882.6,1707.3 888.5,1705.4 871,1708.6 881.6,1708.6 882.8,1709.4 869.3,1714.8 873.6,1714.1 884.2,1712.7 885.9,1714.3 874.1,1717 873.8,1718.3 881.2,1715.1 891.1,1717.5 870.3,1719.6 872.6,1720.1 881.3,1718.2 887.4,1719.1 868,1720.5 875.5,1720.1 882.6,1721.2 887.2,1722.5 866.4,1725.9 874.9,1723.9 880.6,1724.3 886.8,1723.4 866.3,1726.2 871.5,1728.3 878.1,1729 886.6,1728.7 889.9,1729.5 868.4,1733.6 877.7,1731.7 885,1731.2 892.8,1730.4 868.2,1735.6 877.5,1735.5 880.7,1733.6 884.9,1733.5 892.8,1736.5 871.4,1738.7 873.3,1736.6 877.9,1735 882.6,1738.7 892.5,1738.8 868.6,1741.7 876.5,1741.5 878,1739.5 888.9,1739.9 870.9,1744.2 873.3,1741.2 879.9,1744.2 883.5,1741.1 889,1741.9 865.8,1746.3 877.6,1746.3 881.7,1745.9 887.5,1745.3 891.2,1743.2 865.7,1747.7 877.3,1748.2 882.8,1748.4 883.8,1749.9 889.5,1749.6 869.1,1752.6 870.2,1752.4 875.5,1750.6 887.2,1750.7 888.8,1752.2 865.5,1756.1 878.4,1754.4 884.5,1753.7 886.4,1754.2 872,1758.7 873.7,1758.5 876.6,1759.2 886.9,1759.1 890,1759.6 867.8,1760.6 872.3,1762.8 881.7,1760.7 886.3,1760 892.7,1761.9 868.5,1764.1 869.6,1763.2 875.5,1763.9 884.2,1763.9 886.8,1762.7 868.6,1765.6 877.3,1764.6 881.2,1767.7 888.7,1764.7 891.1,1765.8 871.6,1768.9 877.3,1767.1 882.2,1768.4 883.6,1767.1 894,1770.1 871.2,1774 877.7,1770.3 877.4,1771.4 883.6,1772.3 888.9,1770.1 870.7,1775.5 874.4,1777.4 882.6,1774.2 881.9,1775.9 892.3,1777.1 867.9,1779.5 869.7,1777.8 876.3,1778.7 880.9,1779.4 889.2,1777.6 890.5,1779.2 865.8,1781.4 878,1780.4 882.3,1780.5 888.2,1781.5 894.4,1780.9 869.3,1785.8 877.3,1784.2 877.2,1784.5 886.3,1783.4 887.6,1785.9 871.3,1789.2 876.4,1790.2 882.4,1788.6 884.9,1789.2 888.4,1786.6 869.9,1790.2 871.8,1792.1 878,1789.4 883.7,1790.4 892.4,1791.1 866.8,1795.2 872.3,1793.8 879.2,1794.6 888.9,1793.8 892.9,1793.9 866.1,1797.5 869.2,1797.2 879.4,1797.1 889.3,1795.6 888.1,1796.4 868.6,1801.1 872.7,1799 878.9,1798.2 879.5,1797.9 887,1800 891.6,1799.8 870.7,1801.9 877,1805.3 875.8,1803.5 887.2,1801.7 894,1804 865.1,1806 873.2,1806.5 881.3,1808.5 883.5,1808.9 889.8,1806 872.3,1809.6 871,1809.7 881.8,1808.9 882.1,1810.5 886.7,1808.2 867.1,1813.3 875.1,1811.7 880.9,1812.1 881.5,1812.3 893.4,1814.3 870.6,1815.6 877.2,1816.1 881.1,1814.8 886.3,1814.8 888.8,1816.7 867.2,1819.4 874.7,1816.9 881.8,1816.5 883,1817.6 887.7,1818 867.5,1821.4 871.2,1822.6 883.7,1821.9 881.7,1820.7 892.4,1820.4 872.1,1822.3 871.4,1823.1 882.3,1823.6 884.1,1824.7 888.7,1823.3 866.8,1827.6 876,1828.9 878.7,1827.8 881.3,1828.8 890.6,1826 871.5,1830.4 876.3,1830.6 881.2,1831.8 885.1,1831.8 888.7,1830.6 869,1834 872.4,1832.9 885.7,1834.6 893.2,1831.7 867.6,1838 877.5,1838.4 883.4,1835.5 887.7,1836 871.9,1840.6 875.2,1842.2 878.2,1839.4 885.5,1841.1 893,1842.5 866.1,1843.3 872.4,1844.1 876.5,1843.5 888.1,1843.1 887,1843.4 872.2,1846.7 874.1,1848.1 877.2,1845.7 883.4,1848.5 892.9,1845.9 868,1849.2 873.1,1849.2 876.2,1851.3 885.5,1850.9 888,1849.7 872.6,1851.6 881,1851.3 883.3,1852.8 886.3,1851.2 867.8,1857.4 874,1855.9 875.7,1856.9 881.8,1855.4 892.2,1854.3 868.5,1860.2 878.1,1858 879.8,1857.6 886.2,1857.9 871.9,1860.9 875.4,1861.2 879.5,1861.2 890.2,1862.9 874.5,1866.5 876.8,1867.6 887.8,1865 875,1870.3 884.9,1869.5 880.7,1873.7 877,1873.7 882.3,1876.9 876.8,1882.8 878.5,1879.7 876.9,1884.6 876.1,1888.7 879,1891.6 877.3,1893.3 881.1,1898.4 880.2,1902.1 879.4,1906.5 879.5,1911.5 880.1,1916.3 880,1921.1 879.3,1581.2 880.2,1608.2 878.8,1616.2 879.2,1621.5 879.9,1629.4 878.8,1634.7 879.6,1641.1"/>
<path d="M924.1 1666.8H907.8V1878.1H924.1" stroke="#000" stroke-width="2.4" fill="none"/>
<rect x="907.8" y="1721.7" width="33.3" height="104.2" fill="#c0c0c0" stroke="#000" stroke-width="2.4"/>
<path d="M907.8 1775.8H941.1" stroke="#000" stroke-width="4.4"/>
<circle cx="907.3" cy="1772.1" r="3.3" fill="none" stroke="#000" stroke-width="0.9"/>
<text class="ml" x="943.9" y="1781.2">0.32</text>
<polyline class="pts" points="1017.9,1670.6 1020.5,1676.8 1021.9,1681 1015.6,1686 1015.8,1686.6 1014.1,1688.5 1018.4,1693.7 1016.5,1697.7 1013.9,1700.3 1014.7,1704.1 1016.9,1703.8 1018.6,1707.1 1017.1,1709.4 1014.7,1712.7 1021.7,1711.9 1015,1716.6 1017.4,1714.4 1018,1716.1 1020.3,1717.6 1014.4,1721.4 1017.9,1720.3 1025.4,1722.1 1012.6,1725.2 1018.2,1724.2 1018,1729.1 1019.3,1726.2 1010.3,1731.4 1021.2,1728.8 1024.8,1731.2 1010.9,1732.4 1021.2,1732.6 1025.9,1735.1 1010.9,1735.9 1020.4,1735.2 1020.9,1738.8 1013.5,1740.7 1020.6,1741.1 1021.5,1739.3 1012,1743.3 1017,1745.4 1021.1,1742.3 1018.5,1745.3 1017.5,1747.6 1015.7,1752.3 1020.5,1752.4 1023,1752.1 1019.2,1752.8 1021.9,1753.9 1017.9,1755 1025.9,1756.4 1011.4,1760.5 1015.6,1760.7 1021.6,1760.9 1016.2,1761.4 1016.6,1764.5 1022.8,1760.9 1012.7,1765.8 1024.2,1763.9 1019.4,1766.7 1025.1,1768.7 1015.2,1772.2 1021.7,1770.8 1019.5,1772.5 1011.9,1772.8 1022.6,1771.5 1010.3,1775.2 1019.5,1776.2 1025.9,1777.7 1019.9,1778 1022,1776.6 1013.1,1783.4 1019.9,1780.4 1025.9,1783.7 1016.3,1785.3 1020.7,1785.7 1025.9,1786.6 1010,1788.8 1015.7,1788.3 1021.9,1790.9 1016.3,1793.1 1019.8,1794.3 1009.3,1796.3 1015.2,1796.7 1026.5,1795.4 1014.6,1796.9 1020.5,1800.4 1026.6,1797.6 1011.3,1802.5 1015,1802 1026.7,1801.4 1013.2,1806.3 1019.3,1806 1019.4,1804.1 1013,1808.8 1015.5,1808.8 1027,1807.8 1010.6,1810.6 1022.4,1809.3 1020.2,1811.7 1008.4,1813 1019.8,1814.4 1024.4,1814.8 1014.8,1816.4 1015.3,1819.4 1020.1,1817 1013.7,1823.1 1015.7,1822.9 1020.7,1821.5 1025.7,1820.8 1010,1825.7 1019.1,1824 1027.2,1823.8 1011.4,1827.6 1016.5,1828.8 1017.6,1829.1 1027.9,1828.2 1012.7,1832.6 1016.8,1831.3 1018.9,1830.6 1029.4,1832.4 1004.9,1834.2 1013.5,1835.1 1015,1835.5 1025.6,1835 1031.9,1835.9 1003,1839 1008.4,1837.1 1014.9,1837.5 1026.9,1840 1029.7,1839.5 1009,1843.8 1013.3,1842.2 1019.2,1842 1022.6,1843.3 1027.8,1841.6 1010.2,1846.1 1011,1843.7 1019.3,1844 1024.6,1844.8 1029.5,1845.2 1004.1,1848.6 1011.1,1848.9 1017,1849.8 1023.4,1846.5 1032,1848.8 1003.4,1852.9 1010.7,1851.8 1019.2,1849.9 1023.3,1851.3 1026.4,1850.9 1008.7,1853.3 1014.1,1854.6 1026.6,1853.7 1032.2,1854 1004.1,1857.4 1010.2,1856.4 1023.4,1857 1031.7,1857.3 1004.3,1860.3 1011.9,1860.1 1019.2,1861.5 1025.9,1859.2 1028.5,1862.3 1009,1861.9 1016.4,1865 1014.7,1862.5 1020.8,1863.9 1025.6,1864.5 1012,1866.7 1015.7,1866.1 1016.3,1867.8 1031.8,1868.3 1009.1,1869.7 1013.4,1872.3 1018.6,1869.6 1025.2,1872.8 1006.1,1875.9 1017.5,1875 1018.3,1876.2 1031.4,1873.4 1004.8,1876.3 1014.9,1877.2 1016.6,1878.2 1024,1879.4 1031.3,1878.4 1008,1881.9 1017.3,1881.8 1019.8,1882.4 1026.3,1881.8 1007.6,1887 1014.2,1885.2 1021.7,1884.9 1030.5,1885.9 1004.9,1888.1 1014.4,1887.8 1019.1,1888.3 1026.3,1888.1 1010.1,1891.3 1015.2,1892.9 1022.4,1890.2 1025.1,1891.3 1005.2,1896.7 1012.9,1893.2 1022.3,1895.6 1024.5,1893 1007.9,1897.4 1012.6,1898.4 1023.2,1898.8 1026.4,1899.7 1008.3,1899.7 1014,1903.1 1023.1,1902.7 1026.3,1903.1 1008.1,1904.4 1017.5,1903.9 1024.9,1904.7 1024.2,1903 1007.6,1907.5 1017.6,1905.9 1019,1906 1022.9,1907.6 1009.7,1910.1 1017.7,1908.3 1025,1910.9 1027.1,1910.8 1011.4,1912.5 1015.2,1915.4 1017.2,1913.4 1029.6,1914.3 1009.6,1915.5 1020,1915.6 1023.7,1918.1 1010.1,1920.3 1015.5,1920.4 1020.7,1921.8 1011.7,1924.8 1024.1,1923.1 1016.9,1928.1 1014.3,1930.7 1016,1933.7 1018.5,1939.9 1017.6,1944 1018.3,1528.7 1017.5,1531.3 1018.2,1552.5 1017.4,1568.5 1017.7,1573.8 1017.9,1607.2 1017.9,1617.8 1017.3,1621.5 1017.4,1640 1017.9,1654.4 1018.2,1658.6 1017.6,1662.8"/>
<path d="M1061.3 1693.6H1045V1936.8H1061.3" stroke="#000" stroke-width="2.4" fill="none"/>
<rect x="1045" y="1763.1" width="33.6" height="113.6" fill="#f04040" stroke="#000" stroke-width="2.4"/>
<path d="M1045 1830.2H1078.6" stroke="#000" stroke-width="4.4"/>
<circle cx="1044.5" cy="1815.6" r="3.3" fill="none" stroke="#000" stroke-width="0.9"/>
<text class="ml" x="1081.4" y="1835.6">0.22</text>
</g>
<g>
<rect x="1273.9" y="1467.7" width="275.4" height="583.5" fill="#fff" stroke="#000" stroke-width="2.6"/>
<path d="M1275.2 2051.2h-12.6M1275.2 1945h-12.6M1275.2 1838.9h-12.6M1275.2 1732.7h-12.6M1275.2 1626.5h-12.6M1275.2 1520.4h-12.6M1275.2 1998.1h-7M1275.2 1891.9h-7M1275.2 1785.8h-7M1275.2 1679.6h-7M1275.2 1573.4h-7M1275.2 1467.3h-7" stroke="#000" stroke-width="2.6" fill="none"/>
<path d="M1342.8 2051.2v11.8M1480.5 2051.2v11.8" stroke="#000" stroke-width="2.9" fill="none"/>
<g class="tl">
<text transform="translate(1254.4 2061) scale(.935 1)">0.00</text>
<text transform="translate(1254.4 1954.8) scale(.935 1)">0.01</text>
<text transform="translate(1254.4 1848.7) scale(.935 1)">0.02</text>
<text transform="translate(1254.4 1742.5) scale(.935 1)">0.03</text>
<text transform="translate(1254.4 1636.3) scale(.935 1)">0.04</text>
<text transform="translate(1254.4 1530.2) scale(.935 1)">0.05</text>
</g>
<g class="cl">
<text x="1342.8" y="2100.8">WT</text>
<text x="1480.5" y="2100.8">KO</text>
</g>
<text class="ti" transform="translate(1176.8 1759.4) rotate(-90)">Cristae width</text>
<path d="M1332.2 1512.3H1471.8" stroke="#000" stroke-width="2.6"/>
<text class="sg" x="1389.8" y="1515.4" style="font-size:29.5px">***</text>
<polyline class="pts" points="1321.2,1985.4 1321.2,1955.6 1321.2,1945 1321.2,1934.4 1319.2,1923.8 1321.2,1923.8 1323.2,1923.8 1318.4,1913.2 1321.2,1913.2 1324,1913.2 1318.4,1902.6 1321.2,1902.6 1324,1902.6 1317.2,1891.9 1319.9,1891.9 1322.5,1891.9 1325.2,1891.9 1310.7,1881.3 1313.3,1881.3 1316,1881.3 1318.6,1881.3 1321.2,1881.3 1323.8,1881.3 1326.5,1881.3 1329.1,1881.3 1331.7,1881.3 1310.7,1870.7 1313.3,1870.7 1316,1870.7 1318.6,1870.7 1321.2,1870.7 1323.8,1870.7 1326.5,1870.7 1329.1,1870.7 1331.7,1870.7 1311.2,1860.1 1313.7,1860.1 1316.2,1860.1 1318.7,1860.1 1321.2,1860.1 1323.7,1860.1 1326.2,1860.1 1328.7,1860.1 1331.2,1860.1 1311.2,1849.5 1313.7,1849.5 1316.2,1849.5 1318.7,1849.5 1321.2,1849.5 1323.7,1849.5 1326.2,1849.5 1328.7,1849.5 1331.2,1849.5 1305.2,1838.9 1307.9,1838.9 1310.5,1838.9 1313.2,1838.9 1315.9,1838.9 1318.5,1838.9 1321.2,1838.9 1323.9,1838.9 1326.5,1838.9 1329.2,1838.9 1331.9,1838.9 1334.5,1838.9 1337.2,1838.9 1305.7,1828.2 1308.3,1828.2 1310.9,1828.2 1313.5,1828.2 1316,1828.2 1318.6,1828.2 1321.2,1828.2 1323.8,1828.2 1326.4,1828.2 1329,1828.2 1331.5,1828.2 1334.1,1828.2 1336.7,1828.2 1313.2,1817.6 1315.9,1817.6 1318.5,1817.6 1321.2,1817.6 1323.9,1817.6 1326.5,1817.6 1329.2,1817.6 1313.7,1807 1316.2,1807 1318.7,1807 1321.2,1807 1323.7,1807 1326.2,1807 1328.7,1807 1314.7,1796.4 1317.3,1796.4 1319.9,1796.4 1322.5,1796.4 1325.1,1796.4 1327.7,1796.4 1315.4,1785.8 1318.3,1785.8 1321.2,1785.8 1324.1,1785.8 1327,1785.8 1316.7,1775.2 1319.7,1775.2 1322.7,1775.2 1325.7,1775.2 1316.2,1764.5 1318.7,1764.5 1321.2,1764.5 1323.7,1764.5 1326.2,1764.5 1317.2,1753.9 1319.9,1753.9 1322.5,1753.9 1325.2,1753.9 1318.4,1743.3 1321.2,1743.3 1324,1743.3 1320.2,1732.7 1322.2,1732.7 1319.7,1722.1 1322.7,1722.1 1321.2,1711.5 1321.2,1700.8 1321.2,1690.2 1321.2,1679.6 1321.2,1658.4 1321.2,1647.8 1321.2,1637.1 1321.2,1626.5"/>
<path d="M1364.6 1741.2H1348.3V1912.9H1364.6" stroke="#000" stroke-width="2.4" fill="none"/>
<rect x="1348.3" y="1797.5" width="33.6" height="73.3" fill="#c0c0c0" stroke="#000" stroke-width="2.4"/>
<path d="M1348.3 1838.9H1381.9" stroke="#000" stroke-width="4.4"/>
<circle cx="1347.8" cy="1826.5" r="3.3" fill="none" stroke="#000" stroke-width="0.9"/>
<text class="ml" x="1384.7" y="1844.3">0.02</text>
<polyline class="pts" points="1458.6,1966.3 1458.6,1955.6 1458.6,1945 1458.6,1934.4 1457.6,1923.8 1459.6,1923.8 1456.6,1913.2 1458.6,1913.2 1460.6,1913.2 1456.6,1902.6 1458.6,1902.6 1460.6,1902.6 1455.1,1891.9 1457.4,1891.9 1459.8,1891.9 1462.1,1891.9 1450.6,1881.3 1453.3,1881.3 1455.9,1881.3 1458.6,1881.3 1461.3,1881.3 1463.9,1881.3 1466.6,1881.3 1451.1,1870.7 1453.6,1870.7 1456.1,1870.7 1458.6,1870.7 1461.1,1870.7 1463.6,1870.7 1466.1,1870.7 1451.6,1860.1 1454.4,1860.1 1457.2,1860.1 1460,1860.1 1462.8,1860.1 1465.6,1860.1 1452.1,1849.5 1454.7,1849.5 1457.3,1849.5 1459.9,1849.5 1462.5,1849.5 1465.1,1849.5 1442.6,1838.9 1445.3,1838.9 1447.9,1838.9 1450.6,1838.9 1453.3,1838.9 1455.9,1838.9 1458.6,1838.9 1461.3,1838.9 1463.9,1838.9 1466.6,1838.9 1469.3,1838.9 1471.9,1838.9 1474.6,1838.9 1443.6,1828.2 1446.1,1828.2 1448.6,1828.2 1451.1,1828.2 1453.6,1828.2 1456.1,1828.2 1458.6,1828.2 1461.1,1828.2 1463.6,1828.2 1466.1,1828.2 1468.6,1828.2 1471.1,1828.2 1473.6,1828.2 1451.6,1817.6 1454.4,1817.6 1457.2,1817.6 1460,1817.6 1462.8,1817.6 1465.6,1817.6 1451.1,1807 1453.6,1807 1456.1,1807 1458.6,1807 1461.1,1807 1463.6,1807 1466.1,1807 1450.6,1796.4 1453.3,1796.4 1455.9,1796.4 1458.6,1796.4 1461.3,1796.4 1463.9,1796.4 1466.6,1796.4 1449.8,1785.8 1452.3,1785.8 1454.8,1785.8 1457.3,1785.8 1459.9,1785.8 1462.4,1785.8 1464.9,1785.8 1467.4,1785.8 1450.3,1775.2 1453.1,1775.2 1455.8,1775.2 1458.6,1775.2 1461.3,1775.2 1464.1,1775.2 1466.8,1775.2 1451.1,1764.5 1453.6,1764.5 1456.1,1764.5 1458.6,1764.5 1461.1,1764.5 1463.6,1764.5 1466.1,1764.5 1454.1,1753.9 1457.1,1753.9 1460.1,1753.9 1463.1,1753.9 1452.8,1743.3 1455.7,1743.3 1458.6,1743.3 1461.5,1743.3 1464.4,1743.3 1456.6,1732.7 1458.6,1732.7 1460.6,1732.7 1454.6,1722.1 1457.3,1722.1 1459.9,1722.1 1462.6,1722.1 1454.6,1711.5 1457.3,1711.5 1459.9,1711.5 1462.6,1711.5 1457.6,1700.8 1459.6,1700.8 1457.6,1690.2 1459.6,1690.2 1455.8,1679.6 1458.6,1679.6 1461.4,1679.6 1457.6,1669 1459.6,1669 1458.6,1647.8 1458.6,1637.1 1458.6,1626.5 1458.6,1615.9 1458.6,1605.3 1458.6,1594.7 1458.6,1584.1 1458.6,1562.8"/>
<path d="M1502.5 1699.4H1486.2V1915.3H1502.5" stroke="#000" stroke-width="2.4" fill="none"/>
<rect x="1486.2" y="1764.5" width="32.9" height="95.6" fill="#f04040" stroke="#000" stroke-width="2.4"/>
<path d="M1486.2 1817.9H1519.1" stroke="#000" stroke-width="4.4"/>
<circle cx="1485.7" cy="1807" r="3.3" fill="none" stroke="#000" stroke-width="0.9"/>
<text class="ml" x="1521.9" y="1823.3">0.02</text>
</g>
<g>
<rect x="1715.8" y="1467.8" width="275.3" height="583.4" fill="#fff" stroke="#000" stroke-width="2.6"/>
<path d="M1717.1 2051.2h-12.6M1717.1 1986.4h-12.6M1717.1 1921.6h-12.6M1717.1 1856.7h-12.6M1717.1 1791.9h-12.6M1717.1 1727.1h-12.6M1717.1 1662.3h-12.6M1717.1 1597.4h-12.6M1717.1 1532.6h-12.6M1717.1 1467.8h-12.6M1717.1 2018.8h-7M1717.1 1954h-7M1717.1 1889.1h-7M1717.1 1824.3h-7M1717.1 1759.5h-7M1717.1 1694.7h-7M1717.1 1629.9h-7M1717.1 1565h-7M1717.1 1500.2h-7" stroke="#000" stroke-width="2.6" fill="none"/>
<path d="M1784.6 2051.2v11.8M1922.3 2051.2v11.8" stroke="#000" stroke-width="2.9" fill="none"/>
<g class="tl">
<text transform="translate(1696.3 2061) scale(.935 1)">-0.2</text>
<text transform="translate(1696.3 1996.2) scale(.935 1)">0.0</text>
<text transform="translate(1696.3 1931.4) scale(.935 1)">0.2</text>
<text transform="translate(1696.3 1866.5) scale(.935 1)">0.4</text>
<text transform="translate(1696.3 1801.7) scale(.935 1)">0.6</text>
<text transform="translate(1696.3 1736.9) scale(.935 1)">0.8</text>
<text transform="translate(1696.3 1672.1) scale(.935 1)">1.0</text>
<text transform="translate(1696.3 1607.2) scale(.935 1)">1.2</text>
<text transform="translate(1696.3 1542.4) scale(.935 1)">1.4</text>
<text transform="translate(1696.3 1477.6) scale(.935 1)">1.6</text>
</g>
<g class="cl">
<text x="1784.6" y="2100.8">WT</text>
<text x="1922.3" y="2100.8">KO</text>
</g>
<text class="ti" transform="translate(1624.5 1759.5) rotate(-90)">Cristae AR</text>
<path d="M1764.9 1514.2H1904.8" stroke="#000" stroke-width="2.6"/>
<text class="sg" x="1837.6" y="1516.4" style="font-size:29.5px">***</text>
<polyline class="pts" points="1762.3,1893.2 1763.5,1900.1 1763.1,1905.4 1762,1909.9 1763.2,1914.7 1764.1,1919.2 1761,1923.3 1761.4,1927.4 1761.7,1929.4 1759,1935 1763,1936.9 1764,1937 1758.5,1940.1 1765,1939.7 1758.3,1942.8 1762.6,1940.6 1758.1,1945.7 1761.4,1948.2 1765.1,1949.8 1760.1,1951.7 1760,1949.3 1763.8,1950.3 1752.3,1953 1755.1,1955.6 1759.1,1955.6 1759.1,1953.2 1766,1955.4 1769.9,1954.3 1773.4,1953 1776.6,1956 1748.1,1957.5 1750.4,1954.9 1753.4,1958 1755.7,1958.4 1759.8,1955.5 1762.4,1958.6 1769.6,1956 1768.9,1957.3 1776.2,1954.7 1778.2,1958.1 1749.4,1958 1750,1959.6 1754.7,1959.1 1756.9,1960.8 1760,1959.7 1766.3,1958.6 1765.4,1957.9 1768.8,1957.6 1772.4,1958.4 1776.9,1958.8 1748.8,1961 1752,1961.8 1752.6,1961.8 1756.9,1962.3 1762.2,1960.5 1764,1961.4 1766.6,1959.7 1768.7,1963.6 1775.4,1961.3 1778.4,1960.7 1748.9,1964.1 1752.9,1965.9 1751.7,1963.9 1756.5,1963.3 1760.2,1962.8 1763.8,1965.7 1763.7,1965 1767.6,1964.8 1772.6,1966.1 1776,1963.6 1778.7,1962.8 1746.7,1965.8 1749.7,1968.1 1752.5,1965.8 1756.2,1965.5 1762.2,1967.2 1765.2,1968.5 1767.4,1965 1769.4,1966.9 1775.3,1968.6 1777.6,1965.8 1746.9,1971.1 1752.5,1969.7 1753.6,1967.9 1754.9,1967.5 1760.2,1970.2 1764.9,1969.8 1767.9,1969 1767.1,1967.6 1770.7,1969.5 1776.9,1968.6 1776.5,1970.3 1746.2,1973 1753.2,1972.6 1756.6,1970.9 1755.4,1970.8 1763,1971.4 1762.9,1970.2 1766,1971.3 1773.1,1973.1 1775.5,1972.6 1776,1972.7 1746.2,1975.1 1749.3,1973.9 1755.3,1974.1 1758.7,1973 1762.5,1975.3 1764.9,1975.5 1769.4,1971.8 1771.8,1971.9 1775,1973 1779.2,1971.7 1746.7,1974.5 1750,1978.5 1757.4,1978.2 1757.5,1977.3 1764.3,1977.4 1765,1978.4 1771.1,1977.3 1772.2,1976.1 1778.3,1976.6 1748.5,1980.3 1749.9,1979 1756,1976.9 1759,1978 1761.7,1979.4 1762.6,1980.6 1766.1,1977.4 1770.1,1977.1 1771.6,1979.9 1774.6,1979 1756.2,1983.1 1756.2,1980 1762.5,1983.2 1766,1982.6 1767.6,1983.6 1771.9,1982.8 1761,1984.7 1762.8,1835.7 1761.9,1855.1 1762.3,1863.2 1763,1870.7 1762.7,1873.6"/>
<path d="M1806.4 1931.3H1790.1V1988.5H1806.4" stroke="#000" stroke-width="2.4" fill="none"/>
<rect x="1790.1" y="1956" width="33.1" height="15.3" fill="#c0c0c0" stroke="#000" stroke-width="2.4"/>
<path d="M1790.1 1965.6H1823.2" stroke="#000" stroke-width="4.4"/>
<circle cx="1789.6" cy="1959.8" r="3.3" fill="none" stroke="#000" stroke-width="0.9"/>
<text class="ml" x="1826" y="1971">0.06</text>
<polyline class="pts" points="1900.4,1846.5 1900.5,1850.9 1900,1856.6 1900.3,1862.4 1900.3,1866.4 1900.2,1872.2 1900.8,1878.8 1899.4,1883.9 1901.1,1888.2 1900.5,1894.2 1897.9,1899.5 1901.8,1904.4 1898.1,1907.5 1899.3,1909.8 1896.4,1914.9 1901,1918.1 1898,1922.7 1900,1924 1904.2,1922.7 1893.9,1926.9 1901,1927.6 1906.6,1926.1 1893.8,1931.5 1903.9,1928.4 1902.2,1931.2 1892.3,1934 1904,1932.1 1905.5,1933.9 1891.4,1935.6 1896.2,1934 1901.7,1934.3 1904.3,1934.3 1895,1938.1 1896.2,1937.2 1901.1,1939.4 1905,1938.3 1893,1943.2 1898.9,1940.7 1899.7,1940.5 1909.2,1941.4 1895,1945 1893.5,1944.3 1898.6,1945.8 1905.2,1946.9 1909,1947 1895.3,1947.3 1899.8,1949.1 1905.3,1946.4 1905.3,1950 1893.5,1950.3 1900.5,1952.2 1901.5,1948.9 1910.2,1950.2 1887.4,1953.1 1892.4,1953 1900.8,1952.7 1905.2,1951.1 1908.2,1953.8 1913,1950.9 1886.1,1955.2 1887.8,1957 1893.9,1956.2 1897.6,1955.6 1896.5,1956.1 1899.9,1956.4 1905.8,1954.2 1906.6,1953.6 1910,1957.3 1913.5,1956.9 1885.2,1956.7 1890.9,1956.2 1891.9,1956.1 1893.3,1958 1897.8,1957.2 1902.8,1955.6 1902.9,1958 1910.9,1955.3 1911.5,1959.2 1916.7,1959.2 1883.7,1959.5 1889.8,1959.2 1890.9,1959.4 1893.7,1960.9 1899.3,1958.6 1899.4,1960.9 1904.3,1960.9 1907,1961.3 1910.8,1960.2 1911.2,1958 1916.7,1961.1 1886.5,1964.3 1887.2,1960.6 1890.3,1961.4 1896.1,1963.8 1900.1,1963.3 1904.2,1964.4 1904.8,1964.2 1909.5,1961.5 1912.2,1961.2 1914.6,1963.8 1885,1963.4 1886.5,1964.3 1891.1,1962.6 1894.8,1964.9 1896.5,1965.4 1899.8,1964.1 1904.5,1965.7 1910.4,1965.2 1910.7,1963.5 1916.7,1964.3 1883.8,1966.3 1890.9,1966.1 1893.7,1965.4 1892.8,1966.8 1897.5,1967.2 1903.2,1964.9 1905.1,1966.3 1910.5,1968.1 1913.7,1967.7 1914.3,1967.2 1884.3,1969.8 1890.6,1968.2 1891.2,1967.8 1894.6,1968.7 1896.5,1969.8 1901.1,1970.4 1903.9,1970.1 1910.8,1967.9 1911.1,1971.1 1914.6,1968.5 1884.5,1972.6 1888.9,1969.8 1894.4,1972.7 1896.5,1971.5 1899.8,1972.9 1900.4,1970 1906.4,1970.8 1910.9,1972.4 1911.9,1969.7 1915.6,1971.5 1885.2,1975.1 1889.1,1972.2 1893.5,1972.2 1897.3,1975.3 1897,1972.4 1902.9,1973.4 1904.5,1974.6 1907.6,1972.1 1912,1975.1 1916.7,1972 1888,1975.8 1887,1975.6 1892.2,1974.9 1896.7,1975.6 1899.8,1975.2 1901.8,1976.9 1903.6,1975.4 1909.9,1975.8 1910.8,1976.7 1915.6,1977.7 1888.2,1980.4 1891.4,1979.5 1893.4,1978.2 1893.8,1980.4 1898.3,1978 1902,1979.7 1906.3,1977.1 1909.2,1980.5 1913.2,1980.5 1914.4,1980.2 1893.5,1980.7 1892.7,1982.2 1899.2,1982.8 1900,1981 1901.5,1982.6 1905.1,1979.7 1907.3,1982.9 1901.5,1983.4 1900.2,1581.1 1900.6,1726.8 1900.6,1740.7 1899.7,1769.9 1900.2,1788.7 1900.7,1806.5 1900.9,1816.2 1899.6,1832.4"/>
<path d="M1944.2 1867.8H1927.9V2006.1H1944.2" stroke="#000" stroke-width="2.4" fill="none"/>
<rect x="1927.9" y="1923.2" width="33.4" height="41.6" fill="#f04040" stroke="#000" stroke-width="2.4"/>
<path d="M1927.9 1950.7H1961.3" stroke="#000" stroke-width="4.4"/>
<circle cx="1927.4" cy="1936.5" r="3.3" fill="none" stroke="#000" stroke-width="0.9"/>
<text class="ml" x="1964.1" y="1956.1">0.11</text>
</g>
</svg></body></html>
